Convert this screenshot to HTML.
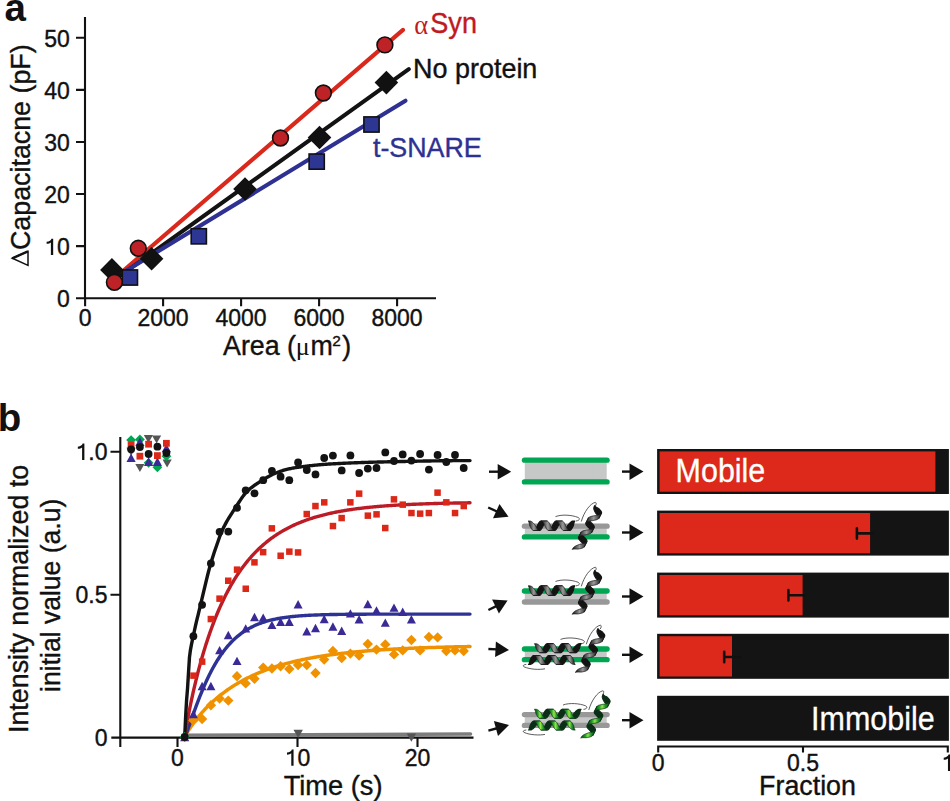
<!DOCTYPE html>
<html><head><meta charset="utf-8"><style>
html,body{margin:0;padding:0;background:#fff;overflow:hidden;}
svg{display:block;font-family:"Liberation Sans", sans-serif;}
</style></head><body>
<svg width="950" height="801" viewBox="0 0 950 801">
<defs><linearGradient id="gg" x1="0" y1="0" x2="1" y2="0"><stop offset="0" stop-color="#151515"/><stop offset="0.25" stop-color="#555"/><stop offset="0.5" stop-color="#9a9a9a"/><stop offset="0.75" stop-color="#555"/><stop offset="1" stop-color="#151515"/></linearGradient><linearGradient id="ggv" x1="0" y1="0" x2="0" y2="1"><stop offset="0" stop-color="#1a1a1a"/><stop offset="0.45" stop-color="#a0a0a0"/><stop offset="0.6" stop-color="#8a8a8a"/><stop offset="1" stop-color="#1a1a1a"/></linearGradient><linearGradient id="gn" x1="0" y1="0" x2="1" y2="0"><stop offset="0" stop-color="#0b3315"/><stop offset="0.3" stop-color="#1b9a2c"/><stop offset="0.5" stop-color="#96e544"/><stop offset="0.7" stop-color="#1b9a2c"/><stop offset="1" stop-color="#0b3315"/></linearGradient><linearGradient id="gnv" x1="0" y1="0" x2="0" y2="1"><stop offset="0" stop-color="#0c3a16"/><stop offset="0.45" stop-color="#7fe03a"/><stop offset="0.6" stop-color="#4cc02a"/><stop offset="1" stop-color="#0c3a16"/></linearGradient></defs>
<rect width="950" height="801" fill="#fff"/>
<text x="4.5" y="21.0" font-size="38.5" font-weight="bold" fill="#111">a</text>
<path d="M85.0 17 V298.2 M76.0 298.2 H436" stroke="#111" stroke-width="2.1" fill="none"/>
<path d="M76.0 246.1 H85.0 M76.0 194.0 H85.0 M76.0 142.0 H85.0 M76.0 89.9 H85.0 M76.0 37.8 H85.0 M85.1 298.2 V306.2 M163.1 298.2 V306.2 M241.1 298.2 V306.2 M319.1 298.2 V306.2 M397.1 298.2 V306.2 " stroke="#111" stroke-width="2.1" fill="none"/>
<text x="57.11" y="307.10" font-size="23" fill="#111" stroke="#111" stroke-width="0.38">0</text>
<path d="M53.18 255.02 L53.18 238.64 L51.45 238.64 C50.99 240.30 49.38 241.56 46.62 241.68 L46.62 243.87 C48.46 243.75 50.07 243.29 50.88 242.49 L50.88 255.02Z" fill="#111"/><text x="57.11" y="255.02" font-size="23" fill="#111" stroke="#111" stroke-width="0.38">0</text>
<text x="44.32" y="202.94" font-size="23" fill="#111" stroke="#111" stroke-width="0.38">20</text>
<text x="44.32" y="150.86" font-size="23" fill="#111" stroke="#111" stroke-width="0.38">30</text>
<text x="44.32" y="98.78" font-size="23" fill="#111" stroke="#111" stroke-width="0.38">40</text>
<text x="44.32" y="46.70" font-size="23" fill="#111" stroke="#111" stroke-width="0.38">50</text>
<text x="85.1" y="325.5" font-size="23" text-anchor="middle" fill="#111" stroke="#111" stroke-width="0.38">0</text>
<text x="163.1" y="325.5" font-size="23" text-anchor="middle" fill="#111" stroke="#111" stroke-width="0.38">2000</text>
<text x="241.1" y="325.5" font-size="23" text-anchor="middle" fill="#111" stroke="#111" stroke-width="0.38">4000</text>
<text x="319.1" y="325.5" font-size="23" text-anchor="middle" fill="#111" stroke="#111" stroke-width="0.38">6000</text>
<text x="397.1" y="325.5" font-size="23" text-anchor="middle" fill="#111" stroke="#111" stroke-width="0.38">8000</text>
<text transform="translate(223.00 355.30) scale(0.965 1)" font-size="27.8" fill="#111" stroke="#111" stroke-width="0.38">Area (</text>
<text transform="translate(295.80 355.30)" font-size="26" fill="#111" font-family="Liberation Serif">μ</text>
<text transform="translate(310.40 355.30) scale(0.965 1)" font-size="27.8" fill="#111" stroke="#111" stroke-width="0.38">m</text>
<text transform="translate(332.30 346.10)" font-size="15.4" fill="#111" stroke="#111" stroke-width="0.38">2</text>
<text transform="translate(351.30 355.30) scale(0.965 1)" font-size="27.8" text-anchor="end" fill="#111" stroke="#111" stroke-width="0.38">)</text>
<text transform="translate(30.00 250.00) rotate(-90) scale(0.965 1)" font-size="27.8" fill="#111" stroke="#111" stroke-width="0.38">Capacitacne (pF)</text>
<path d="M12.3 258.3 L28.0 251.3 L28.0 265.4 Z" fill="none" stroke="#111" stroke-width="1.5" stroke-linejoin="miter"/>
<path d="M12.3 258.3 L28.0 251.3" stroke="#111" stroke-width="2.4"/>
<line x1="114" y1="278.7" x2="403" y2="29.9" stroke="#da281c" stroke-width="4.1" stroke-linecap="round"/>
<line x1="112" y1="281.6" x2="408.8" y2="69.1" stroke="#131313" stroke-width="4.1" stroke-linecap="round"/>
<line x1="124" y1="272.1" x2="405.5" y2="100.7" stroke="#2e3192" stroke-width="4.1" stroke-linecap="round"/>
<rect x="122.3" y="269.9" width="15.2" height="15.2" fill="#2e3694" stroke="#111" stroke-width="1.6"/>
<rect x="191.2" y="228.7" width="15.2" height="15.2" fill="#2e3694" stroke="#111" stroke-width="1.6"/>
<rect x="309.1" y="154.0" width="15.2" height="15.2" fill="#2e3694" stroke="#111" stroke-width="1.6"/>
<rect x="363.9" y="116.9" width="15.2" height="15.2" fill="#2e3694" stroke="#111" stroke-width="1.6"/>
<path d="M100.1 269.9 L111.9 258.1 L123.7 269.9 L111.9 281.7Z" fill="#111"/>
<path d="M139.8 258.7 L151.6 246.9 L163.4 258.7 L151.6 270.5Z" fill="#111"/>
<path d="M233.2 189.0 L245.0 177.2 L256.8 189.0 L245.0 200.8Z" fill="#111"/>
<path d="M307.7 137.5 L319.5 125.7 L331.3 137.5 L319.5 149.3Z" fill="#111"/>
<path d="M374.6 82.6 L386.4 70.8 L398.2 82.6 L386.4 94.4Z" fill="#111"/>
<circle cx="114.4" cy="282.3" r="7.9" fill="#bd2226" stroke="#111" stroke-width="1.6"/>
<circle cx="138.3" cy="248.3" r="7.9" fill="#bd2226" stroke="#111" stroke-width="1.6"/>
<circle cx="280.5" cy="138" r="7.9" fill="#bd2226" stroke="#111" stroke-width="1.6"/>
<circle cx="323.4" cy="93" r="7.9" fill="#bd2226" stroke="#111" stroke-width="1.6"/>
<circle cx="384.9" cy="44.9" r="7.9" fill="#bd2226" stroke="#111" stroke-width="1.6"/>
<text transform="translate(414.30 33.80)" font-size="26.5" fill="#bf1a1f" font-family="Liberation Serif">α</text>
<text transform="translate(430.30 33.40) scale(0.94 1)" font-size="28.8" fill="#bf1a1f" stroke="#bf1a1f" stroke-width="0.38">Syn</text>
<text transform="translate(413.00 77.70) scale(0.97 1)" font-size="27.8" fill="#111" stroke="#111" stroke-width="0.38">No protein</text>
<text transform="translate(373.00 157.40) scale(0.965 1)" font-size="27.8" fill="#2e3192" stroke="#2e3192" stroke-width="0.38">t-SNARE</text>
<text x="-2.3" y="430.8" font-size="38.5" font-weight="bold" fill="#111">b</text>
<path d="M120.3 437 V747 M111.3 737.6 H473.5" stroke="#111" stroke-width="2.1" fill="none"/>
<path d="M110.5 594.7 H120.2 M110.5 451.7 H120.2 M177.5 737.6 V747 M297.5 737.6 V747 M417.5 737.6 V747 " stroke="#111" stroke-width="2.1" fill="none"/>
<text x="94.71" y="745.90" font-size="23" fill="#111" stroke="#111" stroke-width="0.38">0</text>
<text x="75.53" y="602.95" font-size="23" fill="#111" stroke="#111" stroke-width="0.38">0.5</text>
<path d="M84.39 460.00 L84.39 443.62 L82.66 443.62 C82.20 445.28 80.59 446.55 77.83 446.66 L77.83 448.85 C79.67 448.73 81.28 448.27 82.09 447.47 L82.09 460.00Z" fill="#111"/><text x="88.32" y="460.00" font-size="23" fill="#111" stroke="#111" stroke-width="0.38">.0</text>
<text x="171.11" y="765.80" font-size="23" fill="#111" stroke="#111" stroke-width="0.38">0</text>
<path d="M293.57 765.80 L293.57 749.42 L291.84 749.42 C291.38 751.08 289.77 752.34 287.01 752.46 L287.01 754.64 C288.85 754.53 290.46 754.07 291.27 753.26 L291.27 765.80Z" fill="#111"/><text x="297.50" y="765.80" font-size="23" fill="#111" stroke="#111" stroke-width="0.38">0</text>
<text x="404.71" y="765.80" font-size="23" fill="#111" stroke="#111" stroke-width="0.38">20</text>
<text transform="translate(333.10 795.20) scale(0.98 1)" font-size="27.8" text-anchor="middle" fill="#111" stroke="#111" stroke-width="0.38">Time (s)</text>
<text transform="translate(28.40 598.90) rotate(-90) scale(0.965 1)" font-size="27.8" text-anchor="middle" fill="#111" stroke="#111" stroke-width="0.38">Intensity normalized to</text>
<text transform="translate(60.20 595.30) rotate(-90) scale(0.955 1)" font-size="27.8" text-anchor="middle" fill="#111" stroke="#111" stroke-width="0.38">initial value (a.u)</text>
<line x1="185" y1="735.3" x2="470.5" y2="734.0" stroke="#7d7d7d" stroke-width="3.6" stroke-linecap="round"/>
<path d="M293.5 729.7 H302.9 L298.2 737.9Z" fill="#555"/>
<path d="M406.7 733.5 H416.1 L411.4 741.7Z" fill="#555"/>
<path d="M126.5 447.8 H135.7 L131.1 455.8Z" fill="#555"/>
<path d="M135.3 463.9 H144.5 L139.9 471.9Z" fill="#555"/>
<path d="M143.8 434.9 H153.0 L148.4 442.9Z" fill="#555"/>
<path d="M152.0 435.5 H161.2 L156.6 443.5Z" fill="#555"/>
<path d="M162.5 459.5 H171.7 L167.1 467.5Z" fill="#555"/>
<path d="M126.2 440.1 L131.1 435.2 L136.0 440.1 L131.1 445.0Z" fill="#00a651"/>
<path d="M135.0 439.5 L139.9 434.6 L144.8 439.5 L139.9 444.4Z" fill="#00a651"/>
<path d="M143.7 462.8 L148.6 457.9 L153.5 462.8 L148.6 467.7Z" fill="#00a651"/>
<path d="M152.5 467.3 L157.4 462.4 L162.3 467.3 L157.4 472.2Z" fill="#00a651"/>
<path d="M161.5 456.2 L166.4 451.3 L171.3 456.2 L166.4 461.1Z" fill="#00a651"/>
<path d="M126.5 462.1 H135.7 L131.1 453.5Z" fill="#3a2a96"/>
<path d="M135.3 446.0 H144.5 L139.9 437.4Z" fill="#3a2a96"/>
<path d="M144.0 465.9 H153.2 L148.6 457.3Z" fill="#3a2a96"/>
<path d="M152.8 465.9 H162.0 L157.4 457.3Z" fill="#3a2a96"/>
<path d="M161.8 452.3 H171.0 L166.4 443.7Z" fill="#3a2a96"/>
<rect x="127.7" y="441.8" width="6.8" height="6.8" fill="#dc2819"/>
<rect x="136.5" y="452.8" width="6.8" height="6.8" fill="#dc2819"/>
<rect x="145.2" y="440.8" width="6.8" height="6.8" fill="#dc2819"/>
<rect x="154.0" y="452.2" width="6.8" height="6.8" fill="#dc2819"/>
<rect x="163.0" y="439.9" width="6.8" height="6.8" fill="#dc2819"/>
<circle cx="131.1" cy="449.3" r="3.9" fill="#131313"/>
<circle cx="139.9" cy="447.1" r="3.9" fill="#131313"/>
<circle cx="148.6" cy="454.0" r="3.9" fill="#131313"/>
<circle cx="157.4" cy="446.7" r="3.9" fill="#131313"/>
<circle cx="166.4" cy="453.0" r="3.9" fill="#131313"/>
<path d="M184.70 737.00 L185.65 735.11 L186.61 733.43 L187.56 731.83 L188.52 730.31 L189.47 728.83 L190.43 727.40 L191.38 726.01 L192.33 724.65 L193.29 723.33 L194.24 722.05 L195.20 720.79 L196.15 719.56 L197.10 718.35 L198.06 717.18 L199.01 716.02 L199.97 714.89 L200.92 713.79 L201.88 712.70 L202.83 711.64 L203.78 710.59 L204.74 709.57 L205.69 708.57 L206.65 707.58 L207.60 706.61 L208.55 705.67 L209.51 704.73 L210.46 703.82 L211.42 702.92 L212.37 702.04 L213.33 701.17 L214.28 700.31 L215.23 699.48 L216.19 698.65 L217.14 697.84 L218.10 697.05 L219.05 696.27 L220.00 695.50 L220.96 694.74 L221.91 694.00 L222.87 693.27 L223.82 692.55 L224.78 691.85 L225.73 691.15 L226.68 690.47 L227.64 689.80 L228.59 689.13 L229.55 688.48 L230.50 687.84 L231.45 687.21 L232.41 686.60 L233.36 685.99 L234.32 685.39 L235.27 684.80 L236.23 684.22 L237.18 683.64 L238.13 683.08 L239.09 682.53 L240.04 681.98 L241.00 681.45 L241.95 680.92 L242.91 680.40 L243.86 679.89 L244.81 679.39 L245.77 678.89 L246.72 678.40 L247.68 677.92 L248.63 677.45 L249.58 676.98 L250.54 676.53 L251.49 676.07 L252.45 675.63 L253.40 675.19 L254.36 674.76 L255.31 674.34 L256.26 673.92 L257.22 673.51 L258.17 673.10 L259.13 672.70 L260.08 672.31 L261.03 671.92 L261.99 671.54 L262.94 671.17 L263.90 670.80 L264.85 670.43 L265.81 670.08 L266.76 669.72 L267.71 669.37 L268.67 669.03 L269.62 668.69 L270.58 668.36 L271.53 668.03 L272.48 667.71 L273.44 667.39 L274.39 667.08 L275.35 666.77 L276.30 666.47 L277.26 666.17 L278.21 665.87 L279.16 665.58 L280.12 665.29 L281.07 665.01 L282.03 664.73 L282.98 664.46 L283.93 664.19 L284.89 663.92 L285.84 663.66 L286.80 663.40 L287.75 663.15 L288.71 662.90 L289.66 662.65 L290.61 662.41 L291.57 662.17 L292.52 661.93 L293.48 661.70 L294.43 661.47 L295.38 661.24 L296.34 661.02 L297.29 660.80 L298.25 660.58 L299.20 660.37 L300.16 660.16 L301.11 659.95 L302.06 659.75 L303.02 659.54 L303.97 659.35 L304.93 659.15 L305.88 658.96 L306.84 658.77 L307.79 658.58 L308.74 658.39 L309.70 658.21 L310.65 658.03 L311.61 657.86 L312.56 657.68 L313.51 657.51 L314.47 657.34 L315.42 657.17 L316.38 657.01 L317.33 656.85 L318.29 656.69 L319.24 656.53 L320.19 656.37 L321.15 656.22 L322.10 656.07 L323.06 655.92 L324.01 655.77 L324.96 655.63 L325.92 655.48 L326.87 655.34 L327.83 655.21 L328.78 655.07 L329.74 654.93 L330.69 654.80 L331.64 654.67 L332.60 654.54 L333.55 654.41 L334.51 654.29 L335.46 654.16 L336.41 654.04 L337.37 653.92 L338.32 653.80 L339.28 653.69 L340.23 653.57 L341.19 653.46 L342.14 653.34 L343.09 653.23 L344.05 653.12 L345.00 653.02 L345.96 652.91 L346.91 652.81 L347.86 652.70 L348.82 652.60 L349.77 652.50 L350.73 652.40 L351.68 652.31 L352.64 652.21 L353.59 652.11 L354.54 652.02 L355.50 651.93 L356.45 651.84 L357.41 651.75 L358.36 651.66 L359.32 651.57 L360.27 651.49 L361.22 651.40 L362.18 651.32 L363.13 651.24 L364.09 651.15 L365.04 651.07 L365.99 651.00 L366.95 650.92 L367.90 650.84 L368.86 650.76 L369.81 650.69 L370.77 650.62 L371.72 650.54 L372.67 650.47 L373.63 650.40 L374.58 650.33 L375.54 650.26 L376.49 650.19 L377.44 650.13 L378.40 650.06 L379.35 650.00 L380.31 649.93 L381.26 649.87 L382.22 649.81 L383.17 649.74 L384.12 649.68 L385.08 649.62 L386.03 649.57 L386.99 649.51 L387.94 649.45 L388.89 649.39 L389.85 649.34 L390.80 649.28 L391.76 649.23 L392.71 649.17 L393.67 649.12 L394.62 649.07 L395.57 649.02 L396.53 648.97 L397.48 648.92 L398.44 648.87 L399.39 648.82 L400.34 648.77 L401.30 648.72 L402.25 648.68 L403.21 648.63 L404.16 648.58 L405.12 648.54 L406.07 648.49 L407.02 648.45 L407.98 648.41 L408.93 648.36 L409.89 648.32 L410.84 648.28 L411.79 648.24 L412.75 648.20 L413.70 648.16 L414.66 648.12 L415.61 648.08 L416.57 648.04 L417.52 648.01 L418.47 647.97 L419.43 647.93 L420.38 647.90 L421.34 647.86 L422.29 647.83 L423.25 647.79 L424.20 647.76 L425.15 647.72 L426.11 647.69 L427.06 647.66 L428.02 647.62 L428.97 647.59 L429.92 647.56 L430.88 647.53 L431.83 647.50 L432.79 647.47 L433.74 647.44 L434.70 647.41 L435.65 647.38 L436.60 647.35 L437.56 647.32 L438.51 647.30 L439.47 647.27 L440.42 647.24 L441.37 647.21 L442.33 647.19 L443.28 647.16 L444.24 647.14 L445.19 647.11 L446.15 647.09 L447.10 647.06 L448.05 647.04 L449.01 647.01 L449.96 646.99 L450.92 646.97 L451.87 646.94 L452.82 646.92 L453.78 646.90 L454.73 646.87 L455.69 646.85 L456.64 646.83 L457.60 646.81 L458.55 646.79 L459.50 646.77 L460.46 646.75 L461.41 646.73 L462.37 646.71 L463.32 646.69 L464.27 646.67 L465.23 646.65 L466.18 646.63 L467.14 646.61 L468.09 646.59 L469.05 646.57 L470.00 646.56" stroke="#f09200" stroke-width="3.5" fill="none" stroke-linecap="round"/>
<path d="M184.70 737.00 L185.65 735.04 L186.61 732.66 L187.56 730.12 L188.52 727.50 L189.47 724.82 L190.43 722.13 L191.38 719.43 L192.33 716.74 L193.29 714.06 L194.24 711.40 L195.20 708.78 L196.15 706.18 L197.10 703.63 L198.06 701.11 L199.01 698.64 L199.97 696.21 L200.92 693.83 L201.88 691.49 L202.83 689.20 L203.78 686.96 L204.74 684.77 L205.69 682.63 L206.65 680.54 L207.60 678.50 L208.55 676.51 L209.51 674.57 L210.46 672.67 L211.42 670.83 L212.37 669.03 L213.33 667.28 L214.28 665.58 L215.23 663.92 L216.19 662.31 L217.14 660.74 L218.10 659.22 L219.05 657.74 L220.00 656.30 L220.96 654.90 L221.91 653.55 L222.87 652.23 L223.82 650.95 L224.78 649.71 L225.73 648.51 L226.68 647.34 L227.64 646.21 L228.59 645.11 L229.55 644.05 L230.50 643.02 L231.45 642.02 L232.41 641.06 L233.36 640.12 L234.32 639.21 L235.27 638.34 L236.23 637.49 L237.18 636.66 L238.13 635.87 L239.09 635.10 L240.04 634.35 L241.00 633.63 L241.95 632.94 L242.91 632.26 L243.86 631.61 L244.81 630.98 L245.77 630.38 L246.72 629.79 L247.68 629.22 L248.63 628.67 L249.58 628.14 L250.54 627.63 L251.49 627.13 L252.45 626.66 L253.40 626.19 L254.36 625.75 L255.31 625.32 L256.26 624.90 L257.22 624.50 L258.17 624.12 L259.13 623.74 L260.08 623.38 L261.03 623.04 L261.99 622.70 L262.94 622.38 L263.90 622.07 L264.85 621.77 L265.81 621.48 L266.76 621.20 L267.71 620.93 L268.67 620.67 L269.62 620.42 L270.58 620.18 L271.53 619.95 L272.48 619.72 L273.44 619.51 L274.39 619.30 L275.35 619.10 L276.30 618.91 L277.26 618.72 L278.21 618.54 L279.16 618.37 L280.12 618.20 L281.07 618.04 L282.03 617.89 L282.98 617.74 L283.93 617.60 L284.89 617.46 L285.84 617.33 L286.80 617.20 L287.75 617.08 L288.71 616.96 L289.66 616.85 L290.61 616.74 L291.57 616.64 L292.52 616.54 L293.48 616.44 L294.43 616.35 L295.38 616.26 L296.34 616.17 L297.29 616.09 L298.25 616.01 L299.20 615.93 L300.16 615.86 L301.11 615.79 L302.06 615.72 L303.02 615.65 L303.97 615.59 L304.93 615.53 L305.88 615.47 L306.84 615.41 L307.79 615.36 L308.74 615.31 L309.70 615.26 L310.65 615.21 L311.61 615.17 L312.56 615.12 L313.51 615.08 L314.47 615.04 L315.42 615.00 L316.38 614.96 L317.33 614.93 L318.29 614.89 L319.24 614.86 L320.19 614.83 L321.15 614.80 L322.10 614.77 L323.06 614.74 L324.01 614.71 L324.96 614.69 L325.92 614.66 L326.87 614.64 L327.83 614.61 L328.78 614.59 L329.74 614.57 L330.69 614.55 L331.64 614.53 L332.60 614.51 L333.55 614.50 L334.51 614.48 L335.46 614.46 L336.41 614.45 L337.37 614.43 L338.32 614.42 L339.28 614.40 L340.23 614.39 L341.19 614.38 L342.14 614.36 L343.09 614.35 L344.05 614.34 L345.00 614.33 L345.96 614.32 L346.91 614.31 L347.86 614.30 L348.82 614.29 L349.77 614.28 L350.73 614.27 L351.68 614.26 L352.64 614.26 L353.59 614.25 L354.54 614.24 L355.50 614.24 L356.45 614.23 L357.41 614.22 L358.36 614.22 L359.32 614.21 L360.27 614.21 L361.22 614.20 L362.18 614.19 L363.13 614.19 L364.09 614.19 L365.04 614.18 L365.99 614.18 L366.95 614.17 L367.90 614.17 L368.86 614.16 L369.81 614.16 L370.77 614.16 L371.72 614.15 L372.67 614.15 L373.63 614.15 L374.58 614.15 L375.54 614.14 L376.49 614.14 L377.44 614.14 L378.40 614.13 L379.35 614.13 L380.31 614.13 L381.26 614.13 L382.22 614.13 L383.17 614.12 L384.12 614.12 L385.08 614.12 L386.03 614.12 L386.99 614.12 L387.94 614.12 L388.89 614.11 L389.85 614.11 L390.80 614.11 L391.76 614.11 L392.71 614.11 L393.67 614.11 L394.62 614.11 L395.57 614.11 L396.53 614.10 L397.48 614.10 L398.44 614.10 L399.39 614.10 L400.34 614.10 L401.30 614.10 L402.25 614.10 L403.21 614.10 L404.16 614.10 L405.12 614.10 L406.07 614.10 L407.02 614.10 L407.98 614.09 L408.93 614.09 L409.89 614.09 L410.84 614.09 L411.79 614.09 L412.75 614.09 L413.70 614.09 L414.66 614.09 L415.61 614.09 L416.57 614.09 L417.52 614.09 L418.47 614.09 L419.43 614.09 L420.38 614.09 L421.34 614.09 L422.29 614.09 L423.25 614.09 L424.20 614.09 L425.15 614.09 L426.11 614.09 L427.06 614.09 L428.02 614.09 L428.97 614.09 L429.92 614.09 L430.88 614.09 L431.83 614.09 L432.79 614.09 L433.74 614.08 L434.70 614.08 L435.65 614.08 L436.60 614.08 L437.56 614.08 L438.51 614.08 L439.47 614.08 L440.42 614.08 L441.37 614.08 L442.33 614.08 L443.28 614.08 L444.24 614.08 L445.19 614.08 L446.15 614.08 L447.10 614.08 L448.05 614.08 L449.01 614.08 L449.96 614.08 L450.92 614.08 L451.87 614.08 L452.82 614.08 L453.78 614.08 L454.73 614.08 L455.69 614.08 L456.64 614.08 L457.60 614.08 L458.55 614.08 L459.50 614.08 L460.46 614.08 L461.41 614.08 L462.37 614.08 L463.32 614.08 L464.27 614.08 L465.23 614.08 L466.18 614.08 L467.14 614.08 L468.09 614.08 L469.05 614.08 L470.00 614.08" stroke="#2c3394" stroke-width="3.4" fill="none" stroke-linecap="round"/>
<path d="M184.70 737.00 L185.65 730.67 L186.61 725.03 L187.56 719.70 L188.52 714.62 L189.47 709.73 L190.43 705.01 L191.38 700.44 L192.33 696.02 L193.29 691.73 L194.24 687.57 L195.20 683.52 L196.15 679.58 L197.10 675.75 L198.06 672.02 L199.01 668.38 L199.97 664.84 L200.92 661.39 L201.88 658.02 L202.83 654.73 L203.78 651.53 L204.74 648.40 L205.69 645.34 L206.65 642.36 L207.60 639.45 L208.55 636.61 L209.51 633.83 L210.46 631.11 L211.42 628.46 L212.37 625.87 L213.33 623.34 L214.28 620.86 L215.23 618.44 L216.19 616.07 L217.14 613.76 L218.10 611.49 L219.05 609.28 L220.00 607.11 L220.96 605.00 L221.91 602.92 L222.87 600.90 L223.82 598.91 L224.78 596.97 L225.73 595.08 L226.68 593.22 L227.64 591.40 L228.59 589.62 L229.55 587.88 L230.50 586.17 L231.45 584.50 L232.41 582.87 L233.36 581.27 L234.32 579.70 L235.27 578.17 L236.23 576.67 L237.18 575.20 L238.13 573.76 L239.09 572.35 L240.04 570.97 L241.00 569.62 L241.95 568.30 L242.91 567.00 L243.86 565.73 L244.81 564.49 L245.77 563.27 L246.72 562.08 L247.68 560.91 L248.63 559.76 L249.58 558.64 L250.54 557.54 L251.49 556.46 L252.45 555.41 L253.40 554.37 L254.36 553.36 L255.31 552.37 L256.26 551.40 L257.22 550.45 L258.17 549.51 L259.13 548.60 L260.08 547.70 L261.03 546.82 L261.99 545.96 L262.94 545.12 L263.90 544.29 L264.85 543.48 L265.81 542.69 L266.76 541.91 L267.71 541.14 L268.67 540.40 L269.62 539.66 L270.58 538.94 L271.53 538.24 L272.48 537.55 L273.44 536.87 L274.39 536.21 L275.35 535.56 L276.30 534.92 L277.26 534.29 L278.21 533.68 L279.16 533.08 L280.12 532.49 L281.07 531.91 L282.03 531.35 L282.98 530.79 L283.93 530.25 L284.89 529.71 L285.84 529.19 L286.80 528.68 L287.75 528.17 L288.71 527.68 L289.66 527.20 L290.61 526.72 L291.57 526.26 L292.52 525.80 L293.48 525.35 L294.43 524.91 L295.38 524.48 L296.34 524.06 L297.29 523.65 L298.25 523.24 L299.20 522.84 L300.16 522.45 L301.11 522.07 L302.06 521.69 L303.02 521.33 L303.97 520.97 L304.93 520.61 L305.88 520.26 L306.84 519.92 L307.79 519.59 L308.74 519.26 L309.70 518.94 L310.65 518.62 L311.61 518.31 L312.56 518.01 L313.51 517.71 L314.47 517.42 L315.42 517.13 L316.38 516.85 L317.33 516.58 L318.29 516.31 L319.24 516.04 L320.19 515.78 L321.15 515.52 L322.10 515.27 L323.06 515.03 L324.01 514.79 L324.96 514.55 L325.92 514.32 L326.87 514.09 L327.83 513.87 L328.78 513.65 L329.74 513.43 L330.69 513.22 L331.64 513.01 L332.60 512.81 L333.55 512.61 L334.51 512.42 L335.46 512.23 L336.41 512.04 L337.37 511.85 L338.32 511.67 L339.28 511.49 L340.23 511.32 L341.19 511.15 L342.14 510.98 L343.09 510.81 L344.05 510.65 L345.00 510.49 L345.96 510.34 L346.91 510.19 L347.86 510.04 L348.82 509.89 L349.77 509.74 L350.73 509.60 L351.68 509.46 L352.64 509.33 L353.59 509.19 L354.54 509.06 L355.50 508.93 L356.45 508.80 L357.41 508.68 L358.36 508.56 L359.32 508.44 L360.27 508.32 L361.22 508.21 L362.18 508.09 L363.13 507.98 L364.09 507.87 L365.04 507.77 L365.99 507.66 L366.95 507.56 L367.90 507.46 L368.86 507.36 L369.81 507.26 L370.77 507.16 L371.72 507.07 L372.67 506.98 L373.63 506.89 L374.58 506.80 L375.54 506.71 L376.49 506.63 L377.44 506.54 L378.40 506.46 L379.35 506.38 L380.31 506.30 L381.26 506.22 L382.22 506.15 L383.17 506.07 L384.12 506.00 L385.08 505.92 L386.03 505.85 L386.99 505.78 L387.94 505.72 L388.89 505.65 L389.85 505.58 L390.80 505.52 L391.76 505.45 L392.71 505.39 L393.67 505.33 L394.62 505.27 L395.57 505.21 L396.53 505.15 L397.48 505.10 L398.44 505.04 L399.39 504.99 L400.34 504.93 L401.30 504.88 L402.25 504.83 L403.21 504.78 L404.16 504.73 L405.12 504.68 L406.07 504.63 L407.02 504.58 L407.98 504.54 L408.93 504.49 L409.89 504.45 L410.84 504.40 L411.79 504.36 L412.75 504.32 L413.70 504.27 L414.66 504.23 L415.61 504.19 L416.57 504.15 L417.52 504.12 L418.47 504.08 L419.43 504.04 L420.38 504.00 L421.34 503.97 L422.29 503.93 L423.25 503.90 L424.20 503.86 L425.15 503.83 L426.11 503.80 L427.06 503.77 L428.02 503.73 L428.97 503.70 L429.92 503.67 L430.88 503.64 L431.83 503.61 L432.79 503.59 L433.74 503.56 L434.70 503.53 L435.65 503.50 L436.60 503.48 L437.56 503.45 L438.51 503.42 L439.47 503.40 L440.42 503.37 L441.37 503.35 L442.33 503.32 L443.28 503.30 L444.24 503.28 L445.19 503.25 L446.15 503.23 L447.10 503.21 L448.05 503.19 L449.01 503.17 L449.96 503.15 L450.92 503.13 L451.87 503.11 L452.82 503.09 L453.78 503.07 L454.73 503.05 L455.69 503.03 L456.64 503.01 L457.60 502.99 L458.55 502.98 L459.50 502.96 L460.46 502.94 L461.41 502.93 L462.37 502.91 L463.32 502.89 L464.27 502.88 L465.23 502.86 L466.18 502.85 L467.14 502.83 L468.09 502.82 L469.05 502.80 L470.00 502.79" stroke="#bb1c25" stroke-width="3.4" fill="none" stroke-linecap="round"/>
<path d="M184.70 737.00 L185.65 716.41 L186.61 699.87 L187.56 688.04 L188.52 672.45 L189.47 657.36 L190.43 650.13 L191.38 644.83 L192.33 640.48 L193.29 636.06 L194.24 631.48 L195.20 627.14 L196.15 622.98 L197.10 618.97 L198.06 615.03 L199.01 611.13 L199.97 607.22 L200.92 603.23 L201.88 599.20 L202.83 595.13 L203.78 591.07 L204.74 587.02 L205.69 583.02 L206.65 579.09 L207.60 575.25 L208.55 571.52 L209.51 567.93 L210.46 564.50 L211.42 561.24 L212.37 558.15 L213.33 555.18 L214.28 552.31 L215.23 549.52 L216.19 546.76 L217.14 544.01 L218.10 541.23 L219.05 538.47 L220.00 535.80 L220.96 533.29 L221.91 531.01 L222.87 528.96 L223.82 527.02 L224.78 525.16 L225.73 523.37 L226.68 521.66 L227.64 520.01 L228.59 518.41 L229.55 516.86 L230.50 515.34 L231.45 513.85 L232.41 512.38 L233.36 510.92 L234.32 509.46 L235.27 507.99 L236.23 506.50 L237.18 505.01 L238.13 503.51 L239.09 502.02 L240.04 500.55 L241.00 499.12 L241.95 497.72 L242.91 496.38 L243.86 495.11 L244.81 493.91 L245.77 492.79 L246.72 491.78 L247.68 490.85 L248.63 489.97 L249.58 489.13 L250.54 488.32 L251.49 487.55 L252.45 486.81 L253.40 486.10 L254.36 485.41 L255.31 484.74 L256.26 484.10 L257.22 483.47 L258.17 482.85 L259.13 482.24 L260.08 481.64 L261.03 481.05 L261.99 480.46 L262.94 479.86 L263.90 479.27 L264.85 478.69 L265.81 478.12 L266.76 477.55 L267.71 477.00 L268.67 476.46 L269.62 475.94 L270.58 475.44 L271.53 474.96 L272.48 474.50 L273.44 474.07 L274.39 473.66 L275.35 473.27 L276.30 472.89 L277.26 472.51 L278.21 472.15 L279.16 471.79 L280.12 471.45 L281.07 471.12 L282.03 470.80 L282.98 470.49 L283.93 470.20 L284.89 469.92 L285.84 469.66 L286.80 469.41 L287.75 469.17 L288.71 468.95 L289.66 468.75 L290.61 468.55 L291.57 468.36 L292.52 468.18 L293.48 468.00 L294.43 467.83 L295.38 467.67 L296.34 467.51 L297.29 467.36 L298.25 467.22 L299.20 467.08 L300.16 466.95 L301.11 466.82 L302.06 466.69 L303.02 466.57 L303.97 466.45 L304.93 466.34 L305.88 466.22 L306.84 466.11 L307.79 466.00 L308.74 465.89 L309.70 465.78 L310.65 465.67 L311.61 465.57 L312.56 465.46 L313.51 465.36 L314.47 465.27 L315.42 465.17 L316.38 465.08 L317.33 464.98 L318.29 464.89 L319.24 464.81 L320.19 464.72 L321.15 464.64 L322.10 464.56 L323.06 464.48 L324.01 464.41 L324.96 464.34 L325.92 464.27 L326.87 464.20 L327.83 464.14 L328.78 464.07 L329.74 464.02 L330.69 463.96 L331.64 463.90 L332.60 463.85 L333.55 463.80 L334.51 463.74 L335.46 463.69 L336.41 463.64 L337.37 463.59 L338.32 463.54 L339.28 463.49 L340.23 463.44 L341.19 463.39 L342.14 463.35 L343.09 463.30 L344.05 463.25 L345.00 463.21 L345.96 463.17 L346.91 463.12 L347.86 463.08 L348.82 463.04 L349.77 462.99 L350.73 462.95 L351.68 462.91 L352.64 462.87 L353.59 462.84 L354.54 462.80 L355.50 462.76 L356.45 462.72 L357.41 462.69 L358.36 462.65 L359.32 462.62 L360.27 462.58 L361.22 462.55 L362.18 462.51 L363.13 462.48 L364.09 462.45 L365.04 462.42 L365.99 462.39 L366.95 462.36 L367.90 462.33 L368.86 462.30 L369.81 462.27 L370.77 462.24 L371.72 462.21 L372.67 462.19 L373.63 462.16 L374.58 462.14 L375.54 462.11 L376.49 462.09 L377.44 462.06 L378.40 462.04 L379.35 462.02 L380.31 461.99 L381.26 461.97 L382.22 461.95 L383.17 461.93 L384.12 461.90 L385.08 461.88 L386.03 461.86 L386.99 461.84 L387.94 461.81 L388.89 461.79 L389.85 461.77 L390.80 461.75 L391.76 461.73 L392.71 461.70 L393.67 461.68 L394.62 461.66 L395.57 461.64 L396.53 461.62 L397.48 461.60 L398.44 461.58 L399.39 461.55 L400.34 461.53 L401.30 461.51 L402.25 461.49 L403.21 461.47 L404.16 461.45 L405.12 461.43 L406.07 461.41 L407.02 461.39 L407.98 461.37 L408.93 461.35 L409.89 461.33 L410.84 461.31 L411.79 461.29 L412.75 461.27 L413.70 461.25 L414.66 461.23 L415.61 461.21 L416.57 461.19 L417.52 461.17 L418.47 461.16 L419.43 461.14 L420.38 461.12 L421.34 461.10 L422.29 461.09 L423.25 461.07 L424.20 461.05 L425.15 461.03 L426.11 461.02 L427.06 461.00 L428.02 460.99 L428.97 460.97 L429.92 460.95 L430.88 460.94 L431.83 460.92 L432.79 460.91 L433.74 460.89 L434.70 460.88 L435.65 460.87 L436.60 460.85 L437.56 460.84 L438.51 460.83 L439.47 460.81 L440.42 460.80 L441.37 460.79 L442.33 460.78 L443.28 460.77 L444.24 460.76 L445.19 460.74 L446.15 460.73 L447.10 460.72 L448.05 460.71 L449.01 460.71 L449.96 460.70 L450.92 460.69 L451.87 460.68 L452.82 460.67 L453.78 460.66 L454.73 460.66 L455.69 460.65 L456.64 460.64 L457.60 460.64 L458.55 460.63 L459.50 460.63 L460.46 460.62 L461.41 460.62 L462.37 460.61 L463.32 460.61 L464.27 460.61 L465.23 460.61 L466.18 460.60 L467.14 460.60 L468.09 460.60 L469.05 460.60 L470.00 460.60" stroke="#131313" stroke-width="3.4" fill="none" stroke-linecap="round"/>
<path d="M179.8 737.0 L184.7 732.1 L189.6 737.0 L184.7 741.9Z" fill="#00a651"/>
<path d="M188.2 720.4 L193.4 715.2 L198.6 720.4 L193.4 725.6Z" fill="#f09200"/>
<path d="M196.9 719.0 L202.1 713.8 L207.3 719.0 L202.1 724.2Z" fill="#f09200"/>
<path d="M205.7 705.3 L210.9 700.1 L216.1 705.3 L210.9 710.5Z" fill="#f09200"/>
<path d="M214.4 698.6 L219.6 693.4 L224.8 698.6 L219.6 703.8Z" fill="#f09200"/>
<path d="M223.1 700.6 L228.3 695.4 L233.5 700.6 L228.3 705.8Z" fill="#f09200"/>
<path d="M231.8 676.2 L237.0 671.0 L242.2 676.2 L237.0 681.4Z" fill="#f09200"/>
<path d="M240.5 683.4 L245.7 678.2 L250.9 683.4 L245.7 688.6Z" fill="#f09200"/>
<path d="M249.3 678.8 L254.5 673.6 L259.7 678.8 L254.5 684.0Z" fill="#f09200"/>
<path d="M258.0 667.6 L263.2 662.4 L268.4 667.6 L263.2 672.8Z" fill="#f09200"/>
<path d="M266.7 668.5 L271.9 663.3 L277.1 668.5 L271.9 673.7Z" fill="#f09200"/>
<path d="M275.4 666.2 L280.6 661.0 L285.8 666.2 L280.6 671.4Z" fill="#f09200"/>
<path d="M284.1 669.0 L289.3 663.8 L294.5 669.0 L289.3 674.2Z" fill="#f09200"/>
<path d="M292.9 665.0 L298.1 659.8 L303.3 665.0 L298.1 670.2Z" fill="#f09200"/>
<path d="M301.6 665.0 L306.8 659.8 L312.0 665.0 L306.8 670.2Z" fill="#f09200"/>
<path d="M310.3 673.0 L315.5 667.8 L320.7 673.0 L315.5 678.2Z" fill="#f09200"/>
<path d="M319.0 659.6 L324.2 654.4 L329.4 659.6 L324.2 664.8Z" fill="#f09200"/>
<path d="M327.7 651.0 L332.9 645.8 L338.1 651.0 L332.9 656.2Z" fill="#f09200"/>
<path d="M336.5 658.0 L341.7 652.8 L346.9 658.0 L341.7 663.2Z" fill="#f09200"/>
<path d="M345.2 653.6 L350.4 648.4 L355.6 653.6 L350.4 658.8Z" fill="#f09200"/>
<path d="M353.9 655.6 L359.1 650.4 L364.3 655.6 L359.1 660.8Z" fill="#f09200"/>
<path d="M362.6 644.0 L367.8 638.8 L373.0 644.0 L367.8 649.2Z" fill="#f09200"/>
<path d="M371.3 649.6 L376.5 644.4 L381.7 649.6 L376.5 654.8Z" fill="#f09200"/>
<path d="M380.1 644.4 L385.3 639.2 L390.5 644.4 L385.3 649.6Z" fill="#f09200"/>
<path d="M388.8 654.4 L394.0 649.2 L399.2 654.4 L394.0 659.6Z" fill="#f09200"/>
<path d="M397.5 650.4 L402.7 645.2 L407.9 650.4 L402.7 655.6Z" fill="#f09200"/>
<path d="M406.2 640.0 L411.4 634.8 L416.6 640.0 L411.4 645.2Z" fill="#f09200"/>
<path d="M414.9 650.4 L420.1 645.2 L425.3 650.4 L420.1 655.6Z" fill="#f09200"/>
<path d="M423.7 637.0 L428.9 631.8 L434.1 637.0 L428.9 642.2Z" fill="#f09200"/>
<path d="M432.4 637.4 L437.6 632.2 L442.8 637.4 L437.6 642.6Z" fill="#f09200"/>
<path d="M441.1 651.0 L446.3 645.8 L451.5 651.0 L446.3 656.2Z" fill="#f09200"/>
<path d="M449.8 650.4 L455.0 645.2 L460.2 650.4 L455.0 655.6Z" fill="#f09200"/>
<path d="M458.5 651.0 L463.7 645.8 L468.9 651.0 L463.7 656.2Z" fill="#f09200"/>
<path d="M180.2 741.2 H189.2 L184.7 732.8Z" fill="#3a2a96"/>
<path d="M188.9 718.2 H197.9 L193.4 709.8Z" fill="#3a2a96"/>
<path d="M197.6 690.2 H206.6 L202.1 681.8Z" fill="#3a2a96"/>
<path d="M206.4 690.2 H215.4 L210.9 681.8Z" fill="#3a2a96"/>
<path d="M215.1 654.3 H224.1 L219.6 645.9Z" fill="#3a2a96"/>
<path d="M223.8 639.2 H232.8 L228.3 630.8Z" fill="#3a2a96"/>
<path d="M232.5 665.1 H241.5 L237.0 656.7Z" fill="#3a2a96"/>
<path d="M241.2 632.6 H250.2 L245.7 624.2Z" fill="#3a2a96"/>
<path d="M250.0 621.2 H259.0 L254.5 612.8Z" fill="#3a2a96"/>
<path d="M258.7 621.8 H267.7 L263.2 613.4Z" fill="#3a2a96"/>
<path d="M267.4 629.1 H276.4 L271.9 620.7Z" fill="#3a2a96"/>
<path d="M276.1 626.0 H285.1 L280.6 617.6Z" fill="#3a2a96"/>
<path d="M284.8 626.0 H293.8 L289.3 617.6Z" fill="#3a2a96"/>
<path d="M293.6 608.4 H302.6 L298.1 600.0Z" fill="#3a2a96"/>
<path d="M302.3 635.5 H311.3 L306.8 627.1Z" fill="#3a2a96"/>
<path d="M311.0 632.2 H320.0 L315.5 623.8Z" fill="#3a2a96"/>
<path d="M319.7 623.2 H328.7 L324.2 614.8Z" fill="#3a2a96"/>
<path d="M328.4 630.7 H337.4 L332.9 622.3Z" fill="#3a2a96"/>
<path d="M337.2 635.0 H346.2 L341.7 626.6Z" fill="#3a2a96"/>
<path d="M345.9 617.6 H354.9 L350.4 609.2Z" fill="#3a2a96"/>
<path d="M354.6 623.5 H363.6 L359.1 615.1Z" fill="#3a2a96"/>
<path d="M363.3 608.2 H372.3 L367.8 599.8Z" fill="#3a2a96"/>
<path d="M372.0 614.6 H381.0 L376.5 606.2Z" fill="#3a2a96"/>
<path d="M380.8 626.8 H389.8 L385.3 618.4Z" fill="#3a2a96"/>
<path d="M389.5 611.8 H398.5 L394.0 603.4Z" fill="#3a2a96"/>
<path d="M398.2 615.9 H407.2 L402.7 607.5Z" fill="#3a2a96"/>
<path d="M406.9 623.5 H415.9 L411.4 615.1Z" fill="#3a2a96"/>
<rect x="181.4" y="733.8" width="6.5" height="6.5" fill="#dc2819"/>
<rect x="190.2" y="672.4" width="6.5" height="6.5" fill="#dc2819"/>
<rect x="198.9" y="658.4" width="6.5" height="6.5" fill="#dc2819"/>
<rect x="207.6" y="615.8" width="6.5" height="6.5" fill="#dc2819"/>
<rect x="216.3" y="595.4" width="6.5" height="6.5" fill="#dc2819"/>
<rect x="225.0" y="577.5" width="6.5" height="6.5" fill="#dc2819"/>
<rect x="233.8" y="566.4" width="6.5" height="6.5" fill="#dc2819"/>
<rect x="242.5" y="585.5" width="6.5" height="6.5" fill="#dc2819"/>
<rect x="251.2" y="559.1" width="6.5" height="6.5" fill="#dc2819"/>
<rect x="259.9" y="548.9" width="6.5" height="6.5" fill="#dc2819"/>
<rect x="268.6" y="525.1" width="6.5" height="6.5" fill="#dc2819"/>
<rect x="277.4" y="552.5" width="6.5" height="6.5" fill="#dc2819"/>
<rect x="286.1" y="548.4" width="6.5" height="6.5" fill="#dc2819"/>
<rect x="294.8" y="549.2" width="6.5" height="6.5" fill="#dc2819"/>
<rect x="303.5" y="510.8" width="6.5" height="6.5" fill="#dc2819"/>
<rect x="312.2" y="502.8" width="6.5" height="6.5" fill="#dc2819"/>
<rect x="321.0" y="499.1" width="6.5" height="6.5" fill="#dc2819"/>
<rect x="329.7" y="522.8" width="6.5" height="6.5" fill="#dc2819"/>
<rect x="338.4" y="514.8" width="6.5" height="6.5" fill="#dc2819"/>
<rect x="347.1" y="499.1" width="6.5" height="6.5" fill="#dc2819"/>
<rect x="355.9" y="490.4" width="6.5" height="6.5" fill="#dc2819"/>
<rect x="364.6" y="512.4" width="6.5" height="6.5" fill="#dc2819"/>
<rect x="373.3" y="511.1" width="6.5" height="6.5" fill="#dc2819"/>
<rect x="382.0" y="524.8" width="6.5" height="6.5" fill="#dc2819"/>
<rect x="390.7" y="496.1" width="6.5" height="6.5" fill="#dc2819"/>
<rect x="399.5" y="501.4" width="6.5" height="6.5" fill="#dc2819"/>
<rect x="408.2" y="509.8" width="6.5" height="6.5" fill="#dc2819"/>
<rect x="416.9" y="510.4" width="6.5" height="6.5" fill="#dc2819"/>
<rect x="425.6" y="509.8" width="6.5" height="6.5" fill="#dc2819"/>
<rect x="434.3" y="489.4" width="6.5" height="6.5" fill="#dc2819"/>
<rect x="443.1" y="499.1" width="6.5" height="6.5" fill="#dc2819"/>
<rect x="451.8" y="509.8" width="6.5" height="6.5" fill="#dc2819"/>
<rect x="460.5" y="502.8" width="6.5" height="6.5" fill="#dc2819"/>
<circle cx="184.7" cy="737.0" r="3.9" fill="#131313"/>
<circle cx="193.4" cy="636.2" r="3.9" fill="#131313"/>
<circle cx="202.1" cy="604.8" r="3.9" fill="#131313"/>
<circle cx="210.9" cy="563.5" r="3.9" fill="#131313"/>
<circle cx="219.6" cy="531.8" r="3.9" fill="#131313"/>
<circle cx="228.3" cy="531.6" r="3.9" fill="#131313"/>
<circle cx="237.0" cy="507.9" r="3.9" fill="#131313"/>
<circle cx="245.7" cy="490.3" r="3.9" fill="#131313"/>
<circle cx="254.5" cy="493.3" r="3.9" fill="#131313"/>
<circle cx="263.2" cy="480.2" r="3.9" fill="#131313"/>
<circle cx="271.9" cy="470.8" r="3.9" fill="#131313"/>
<circle cx="280.6" cy="476.7" r="3.9" fill="#131313"/>
<circle cx="289.3" cy="480.2" r="3.9" fill="#131313"/>
<circle cx="298.1" cy="462.5" r="3.9" fill="#131313"/>
<circle cx="306.8" cy="470.0" r="3.9" fill="#131313"/>
<circle cx="315.5" cy="474.4" r="3.9" fill="#131313"/>
<circle cx="324.2" cy="458.0" r="3.9" fill="#131313"/>
<circle cx="332.9" cy="455.6" r="3.9" fill="#131313"/>
<circle cx="341.7" cy="470.4" r="3.9" fill="#131313"/>
<circle cx="350.4" cy="455.4" r="3.9" fill="#131313"/>
<circle cx="359.1" cy="473.0" r="3.9" fill="#131313"/>
<circle cx="367.8" cy="468.6" r="3.9" fill="#131313"/>
<circle cx="376.5" cy="468.0" r="3.9" fill="#131313"/>
<circle cx="385.3" cy="452.4" r="3.9" fill="#131313"/>
<circle cx="394.0" cy="461.0" r="3.9" fill="#131313"/>
<circle cx="402.7" cy="454.4" r="3.9" fill="#131313"/>
<circle cx="411.4" cy="460.6" r="3.9" fill="#131313"/>
<circle cx="420.1" cy="454.0" r="3.9" fill="#131313"/>
<circle cx="428.9" cy="469.6" r="3.9" fill="#131313"/>
<circle cx="437.6" cy="455.0" r="3.9" fill="#131313"/>
<circle cx="446.3" cy="462.0" r="3.9" fill="#131313"/>
<circle cx="455.0" cy="455.0" r="3.9" fill="#131313"/>
<circle cx="463.7" cy="468.0" r="3.9" fill="#131313"/>
<line x1="489.0" y1="471.7" x2="499.7" y2="471.7" stroke="#111" stroke-width="2.4"/><path d="M511.2 471.7 L497.7 479.4 L497.7 463.9Z" fill="#111"/>
<line x1="488.2" y1="507.5" x2="498.0" y2="512.0" stroke="#111" stroke-width="2.4"/><path d="M508.5 516.8 L493.0 518.2 L499.5 504.1Z" fill="#111"/>
<line x1="488.4" y1="610.0" x2="497.3" y2="605.7" stroke="#111" stroke-width="2.4"/><path d="M507.6 600.6 L498.9 613.5 L492.1 599.6Z" fill="#111"/>
<line x1="488.4" y1="649.0" x2="497.5" y2="649.4" stroke="#111" stroke-width="2.4"/><path d="M509.0 650.0 L495.1 657.1 L495.9 641.6Z" fill="#111"/>
<line x1="488.4" y1="730.6" x2="497.9" y2="728.0" stroke="#111" stroke-width="2.4"/><path d="M509.0 725.0 L498.0 736.0 L493.9 721.1Z" fill="#111"/>
<line x1="622.0" y1="471.6" x2="631.5" y2="471.6" stroke="#111" stroke-width="2.4"/><path d="M643.5 471.6 L629.5 479.9 L629.5 463.4Z" fill="#111"/>
<line x1="622.0" y1="532.5" x2="631.5" y2="532.5" stroke="#111" stroke-width="2.4"/><path d="M643.5 532.5 L629.5 540.8 L629.5 524.2Z" fill="#111"/>
<line x1="622.0" y1="596.5" x2="631.5" y2="596.5" stroke="#111" stroke-width="2.4"/><path d="M643.5 596.5 L629.5 604.8 L629.5 588.2Z" fill="#111"/>
<line x1="622.0" y1="654.8" x2="631.5" y2="654.8" stroke="#111" stroke-width="2.4"/><path d="M643.5 654.8 L629.5 663.0 L629.5 646.5Z" fill="#111"/>
<line x1="622.0" y1="720.2" x2="631.5" y2="720.2" stroke="#111" stroke-width="2.4"/><path d="M643.5 720.2 L629.5 728.5 L629.5 712.0Z" fill="#111"/>
<rect x="657.1" y="449" width="291.8" height="45" fill="#141414"/>
<rect x="659.6" y="451.4" width="275.8" height="40.3" fill="#dc291b"/>
<rect x="657.1" y="510.6" width="291.8" height="45" fill="#141414"/>
<rect x="659.6" y="513.0" width="210.5" height="40.3" fill="#dc291b"/>
<rect x="657.1" y="572.6" width="291.8" height="45" fill="#141414"/>
<rect x="659.6" y="575.0" width="143.0" height="40.3" fill="#dc291b"/>
<rect x="657.1" y="633.8" width="291.8" height="45" fill="#141414"/>
<rect x="659.6" y="636.1999999999999" width="72.4" height="40.3" fill="#dc291b"/>
<rect x="657.1" y="695.8" width="291.8" height="45" fill="#141414"/>
<path d="M856.9 528.1999999999999 V538.6 M856.9 533.4 H872.9" stroke="#111" stroke-width="2.6" stroke-linecap="round" fill="none"/>
<path d="M788.4 590.0 V600.4000000000001 M788.4 595.2 H804.4" stroke="#111" stroke-width="2.6" stroke-linecap="round" fill="none"/>
<path d="M724.2 651.8 V662.2 M724.2 657.0 H740.2" stroke="#111" stroke-width="2.6" stroke-linecap="round" fill="none"/>
<text transform="translate(675.60 482.00) scale(0.94 1)" font-size="32.4" fill="#fff" stroke="#fff" stroke-width="0.3">Mobile</text>
<text transform="translate(934.60 729.80) scale(0.94 1)" font-size="32.4" text-anchor="end" fill="#fff" stroke="#fff" stroke-width="0.3">Immobile</text>
<path d="M658.2 752.6 V746.5 H947.8 V752.6 M803 746.5 V752.6" stroke="#111" stroke-width="2.1" fill="none"/>
<text x="658.2" y="771.0" font-size="23" text-anchor="middle" fill="#111" stroke="#111" stroke-width="0.38">0</text>
<text x="803.0" y="771.0" font-size="23" text-anchor="middle" fill="#111" stroke="#111" stroke-width="0.38">0.5</text>
<path d="M950.26 771.00 L950.26 754.62 L948.54 754.62 C948.08 756.28 946.47 757.54 943.71 757.66 L943.71 759.85 C945.55 759.73 947.16 759.27 947.96 758.47 L947.96 771.00Z" fill="#111"/>
<text transform="translate(807.50 795.20) scale(0.965 1)" font-size="27.8" text-anchor="middle" fill="#111" stroke="#111" stroke-width="0.38">Fraction</text>
<rect x="524.8" y="460.2" width="81.9" height="21.7" fill="#c6c7c7"/><line x1="524.4" y1="460.2" x2="607.1" y2="460.2" stroke="#00a651" stroke-width="5.2" stroke-linecap="round"/><line x1="524.4" y1="481.9" x2="607.1" y2="481.9" stroke="#00a651" stroke-width="5.2" stroke-linecap="round"/>
<rect x="524.8" y="526.2" width="81.9" height="10.7" fill="#c6c7c7"/><line x1="524.4" y1="526.2" x2="607.1" y2="526.2" stroke="#989898" stroke-width="5.3" stroke-linecap="round"/><line x1="524.4" y1="536.9" x2="607.1" y2="536.9" stroke="#00a651" stroke-width="5.3" stroke-linecap="round"/>
<rect x="524.8" y="591.0" width="81.9" height="11.0" fill="#c6c7c7"/><line x1="524.4" y1="591.0" x2="607.1" y2="591.0" stroke="#00a651" stroke-width="5.3" stroke-linecap="round"/><line x1="524.4" y1="602.0" x2="607.1" y2="602.0" stroke="#989898" stroke-width="5.3" stroke-linecap="round"/>
<rect x="524.8" y="649.0" width="81.9" height="10.7" fill="#c6c7c7"/><line x1="524.4" y1="649.0" x2="607.1" y2="649.0" stroke="#00a651" stroke-width="5.3" stroke-linecap="round"/><line x1="524.4" y1="659.7" x2="607.1" y2="659.7" stroke="#00a651" stroke-width="5.3" stroke-linecap="round"/>
<rect x="524.8" y="714.6" width="81.9" height="10.8" fill="#c6c7c7"/><line x1="524.4" y1="714.6" x2="607.1" y2="714.6" stroke="#989898" stroke-width="5.3" stroke-linecap="round"/><line x1="524.4" y1="725.4" x2="607.1" y2="725.4" stroke="#989898" stroke-width="5.3" stroke-linecap="round"/>
<path d="M533.55 530.50 L533.86 530.46 L534.18 530.34 L534.49 530.14 L534.81 529.86 L535.12 529.52 L535.44 529.11 L535.75 528.64 L536.07 528.12 L536.38 527.57 L536.70 526.98 L537.01 526.37 L537.33 525.75 L537.64 525.13 L537.95 524.52 L538.27 523.93 L538.58 523.38 L538.90 522.86 L539.21 522.39 L539.53 521.98 L539.84 521.64 L540.16 521.36 L540.47 521.16 L540.79 521.04 L541.10 521.00 L546.90 521.00 L546.59 521.04 L546.27 521.16 L545.96 521.36 L545.64 521.64 L545.33 521.98 L545.01 522.39 L544.70 522.86 L544.38 523.38 L544.07 523.93 L543.75 524.52 L543.44 525.13 L543.12 525.75 L542.81 526.37 L542.50 526.98 L542.18 527.57 L541.87 528.12 L541.55 528.64 L541.24 529.11 L540.92 529.52 L540.61 529.86 L540.29 530.14 L539.98 530.34 L539.66 530.46 L539.35 530.50Z" fill="#141414" stroke="#141414" stroke-width="1.2" stroke-linejoin="round"/><path d="M548.65 530.50 L548.96 530.46 L549.28 530.34 L549.59 530.14 L549.91 529.86 L550.22 529.52 L550.54 529.11 L550.85 528.64 L551.17 528.12 L551.48 527.57 L551.80 526.98 L552.11 526.37 L552.42 525.75 L552.74 525.13 L553.05 524.52 L553.37 523.93 L553.68 523.38 L554.00 522.86 L554.31 522.39 L554.63 521.98 L554.94 521.64 L555.26 521.36 L555.57 521.16 L555.89 521.04 L556.20 521.00 L562.00 521.00 L561.69 521.04 L561.37 521.16 L561.06 521.36 L560.74 521.64 L560.43 521.98 L560.11 522.39 L559.80 522.86 L559.48 523.38 L559.17 523.93 L558.85 524.52 L558.54 525.13 L558.22 525.75 L557.91 526.37 L557.60 526.98 L557.28 527.57 L556.97 528.12 L556.65 528.64 L556.34 529.11 L556.02 529.52 L555.71 529.86 L555.39 530.14 L555.08 530.34 L554.76 530.46 L554.45 530.50Z" fill="#141414" stroke="#141414" stroke-width="1.2" stroke-linejoin="round"/><path d="M563.75 530.50 L564.06 530.46 L564.38 530.34 L564.69 530.14 L565.01 529.86 L565.32 529.52 L565.64 529.11 L565.95 528.64 L566.27 528.12 L566.58 527.57 L566.90 526.98 L567.21 526.37 L567.52 525.75 L568.02 525.13 L568.52 524.52 L569.01 523.93 L569.51 523.38 L570.00 522.86 L570.50 522.39 L571.00 521.98 L571.49 521.64 L571.99 521.36 L572.48 521.16 L572.98 521.04 L573.47 521.00 L574.92 521.00 L574.79 521.04 L574.66 521.16 L574.52 521.36 L574.39 521.64 L574.26 521.98 L574.12 522.39 L573.99 522.86 L573.86 523.38 L573.73 523.93 L573.59 524.52 L573.46 525.13 L573.32 525.75 L573.01 526.37 L572.70 526.98 L572.38 527.57 L572.07 528.12 L571.75 528.64 L571.44 529.11 L571.12 529.52 L570.81 529.86 L570.49 530.14 L570.18 530.34 L569.86 530.46 L569.55 530.50Z" fill="#141414" stroke="#141414" stroke-width="1.2" stroke-linejoin="round"/><path d="M528.17 521.00 L528.31 521.04 L528.44 521.16 L528.58 521.36 L528.71 521.64 L528.84 521.98 L528.98 522.39 L529.11 522.86 L529.24 523.38 L529.37 523.93 L529.51 524.52 L529.64 525.13 L529.77 525.75 L530.09 526.37 L530.40 526.98 L530.72 527.57 L531.03 528.12 L531.35 528.64 L531.66 529.11 L531.98 529.52 L532.29 529.86 L532.61 530.14 L532.92 530.34 L533.24 530.46 L533.55 530.50 L539.35 530.50 L539.04 530.46 L538.72 530.34 L538.41 530.14 L538.09 529.86 L537.78 529.52 L537.46 529.11 L537.15 528.64 L536.83 528.12 L536.52 527.57 L536.20 526.98 L535.89 526.37 L535.57 525.75 L535.08 525.13 L534.58 524.52 L534.09 523.93 L533.59 523.38 L533.10 522.86 L532.60 522.39 L532.10 521.98 L531.61 521.64 L531.11 521.36 L530.62 521.16 L530.12 521.04 L529.62 521.00Z" fill="url(#gg)" stroke="#1a1a1a" stroke-width="0.8" stroke-linejoin="round"/><path d="M541.10 521.00 L541.41 521.04 L541.73 521.16 L542.04 521.36 L542.36 521.64 L542.67 521.98 L542.99 522.39 L543.30 522.86 L543.62 523.38 L543.93 523.93 L544.25 524.52 L544.56 525.13 L544.88 525.75 L545.19 526.37 L545.50 526.98 L545.82 527.57 L546.13 528.12 L546.45 528.64 L546.76 529.11 L547.08 529.52 L547.39 529.86 L547.71 530.14 L548.02 530.34 L548.34 530.46 L548.65 530.50 L554.45 530.50 L554.14 530.46 L553.82 530.34 L553.51 530.14 L553.19 529.86 L552.88 529.52 L552.56 529.11 L552.25 528.64 L551.93 528.12 L551.62 527.57 L551.30 526.98 L550.99 526.37 L550.67 525.75 L550.36 525.13 L550.05 524.52 L549.73 523.93 L549.42 523.38 L549.10 522.86 L548.79 522.39 L548.47 521.98 L548.16 521.64 L547.84 521.36 L547.53 521.16 L547.21 521.04 L546.90 521.00Z" fill="url(#gg)" stroke="#1a1a1a" stroke-width="0.8" stroke-linejoin="round"/><path d="M556.20 521.00 L556.51 521.04 L556.83 521.16 L557.14 521.36 L557.46 521.64 L557.77 521.98 L558.09 522.39 L558.40 522.86 L558.72 523.38 L559.03 523.93 L559.35 524.52 L559.66 525.13 L559.98 525.75 L560.29 526.37 L560.60 526.98 L560.92 527.57 L561.23 528.12 L561.55 528.64 L561.86 529.11 L562.18 529.52 L562.49 529.86 L562.81 530.14 L563.12 530.34 L563.44 530.46 L563.75 530.50 L569.55 530.50 L569.24 530.46 L568.92 530.34 L568.61 530.14 L568.29 529.86 L567.98 529.52 L567.66 529.11 L567.35 528.64 L567.03 528.12 L566.72 527.57 L566.40 526.98 L566.09 526.37 L565.77 525.75 L565.46 525.13 L565.15 524.52 L564.83 523.93 L564.52 523.38 L564.20 522.86 L563.89 522.39 L563.57 521.98 L563.26 521.64 L562.94 521.36 L562.63 521.16 L562.31 521.04 L562.00 521.00Z" fill="url(#gg)" stroke="#1a1a1a" stroke-width="0.8" stroke-linejoin="round"/>
<path d="M594.82 505.58 L594.79 505.73 L594.83 505.90 L594.96 506.09 L595.15 506.31 L595.42 506.54 L595.75 506.79 L596.13 507.05 L596.56 507.33 L597.03 507.62 L597.54 507.91 L598.06 508.21 L598.59 508.52 L599.05 508.98 L599.49 509.43 L599.91 509.89 L600.30 510.33 L600.66 510.76 L600.96 511.18 L601.21 511.59 L601.40 511.97 L601.51 512.34 L601.55 512.69 L601.52 513.02 L601.41 513.33 L598.86 518.31 L598.97 518.00 L599.00 517.68 L598.96 517.33 L598.84 516.96 L598.66 516.57 L598.41 516.17 L598.10 515.75 L597.75 515.31 L597.36 514.87 L596.94 514.42 L596.49 513.96 L596.04 513.50 L595.67 512.89 L595.30 512.27 L594.96 511.67 L594.65 511.07 L594.37 510.48 L594.15 509.90 L593.98 509.34 L593.88 508.80 L593.84 508.28 L593.88 507.77 L593.99 507.29 L594.18 506.82Z" fill="#141414" stroke="#141414" stroke-width="1.2" stroke-linejoin="round"/><path d="M588.48 517.95 L588.37 518.26 L588.33 518.58 L588.38 518.93 L588.49 519.30 L588.68 519.69 L588.93 520.09 L589.23 520.51 L589.58 520.95 L589.98 521.39 L590.40 521.84 L590.84 522.30 L591.30 522.76 L591.75 523.22 L592.19 523.67 L592.62 524.13 L593.01 524.57 L593.36 525.00 L593.67 525.42 L593.91 525.83 L594.10 526.21 L594.22 526.58 L594.26 526.93 L594.23 527.26 L594.11 527.57 L591.56 532.55 L591.67 532.24 L591.71 531.92 L591.66 531.57 L591.55 531.20 L591.36 530.81 L591.11 530.41 L590.81 529.99 L590.46 529.55 L590.06 529.11 L589.64 528.66 L589.20 528.20 L588.74 527.74 L588.29 527.28 L587.85 526.83 L587.42 526.37 L587.03 525.93 L586.68 525.50 L586.37 525.08 L586.13 524.67 L585.94 524.29 L585.82 523.92 L585.78 523.57 L585.81 523.24 L585.93 522.93Z" fill="#141414" stroke="#141414" stroke-width="1.2" stroke-linejoin="round"/><path d="M581.18 532.19 L581.07 532.50 L581.04 532.82 L581.08 533.17 L581.20 533.54 L581.38 533.93 L581.63 534.33 L581.94 534.75 L582.29 535.19 L582.68 535.63 L583.10 536.08 L583.55 536.54 L584.00 537.00 L584.45 537.46 L584.90 537.91 L585.32 538.37 L585.71 538.81 L586.07 539.24 L586.37 539.66 L586.62 540.07 L586.80 540.45 L586.92 540.82 L586.96 541.17 L586.93 541.50 L586.82 541.81 L584.26 546.79 L584.38 546.48 L584.41 546.16 L584.37 545.81 L584.25 545.44 L584.06 545.05 L583.82 544.65 L583.51 544.23 L583.16 543.79 L582.77 543.35 L582.34 542.90 L581.90 542.44 L581.45 541.98 L580.99 541.52 L580.55 541.07 L580.13 540.61 L579.74 540.17 L579.38 539.74 L579.08 539.32 L578.83 538.91 L578.64 538.53 L578.53 538.16 L578.49 537.81 L578.52 537.48 L578.63 537.17Z" fill="#141414" stroke="#141414" stroke-width="1.2" stroke-linejoin="round"/><path d="M601.41 513.33 L601.22 513.61 L600.95 513.88 L600.60 514.12 L600.18 514.35 L599.69 514.55 L599.14 514.74 L598.53 514.92 L597.87 515.08 L597.18 515.23 L596.45 515.37 L595.70 515.50 L594.94 515.64 L594.19 515.77 L593.44 515.91 L592.71 516.05 L592.02 516.20 L591.36 516.36 L590.75 516.53 L590.20 516.72 L589.71 516.93 L589.29 517.15 L588.94 517.40 L588.67 517.66 L588.48 517.95 L585.93 522.93 L586.12 522.65 L586.39 522.38 L586.74 522.14 L587.16 521.91 L587.65 521.71 L588.20 521.52 L588.81 521.34 L589.46 521.18 L590.16 521.03 L590.89 520.89 L591.63 520.76 L592.39 520.62 L593.15 520.49 L593.90 520.35 L594.62 520.21 L595.32 520.06 L595.98 519.90 L596.58 519.73 L597.14 519.54 L597.63 519.33 L598.05 519.11 L598.39 518.86 L598.66 518.60 L598.86 518.31Z" fill="url(#gg)" stroke="#1a1a1a" stroke-width="0.8" stroke-linejoin="round"/><path d="M594.11 527.57 L593.92 527.85 L593.65 528.12 L593.30 528.36 L592.88 528.59 L592.39 528.79 L591.84 528.98 L591.23 529.16 L590.58 529.32 L589.88 529.47 L589.15 529.61 L588.41 529.74 L587.65 529.88 L586.89 530.01 L586.14 530.15 L585.42 530.29 L584.72 530.44 L584.06 530.60 L583.46 530.77 L582.90 530.96 L582.41 531.17 L581.99 531.39 L581.65 531.64 L581.38 531.90 L581.18 532.19 L578.63 537.17 L578.82 536.89 L579.09 536.62 L579.44 536.38 L579.86 536.15 L580.35 535.95 L580.90 535.76 L581.51 535.58 L582.17 535.42 L582.86 535.27 L583.59 535.13 L584.34 535.00 L585.10 534.86 L585.85 534.73 L586.60 534.59 L587.33 534.45 L588.02 534.30 L588.68 534.14 L589.29 533.97 L589.84 533.78 L590.33 533.57 L590.75 533.35 L591.10 533.10 L591.37 532.84 L591.56 532.55Z" fill="url(#gg)" stroke="#1a1a1a" stroke-width="0.8" stroke-linejoin="round"/><path d="M586.82 541.81 L586.63 542.09 L586.35 542.36 L586.01 542.60 L585.59 542.83 L585.10 543.03 L584.55 543.22 L583.94 543.40 L583.28 543.56 L582.58 543.71 L581.86 543.85 L581.11 543.98 L580.35 544.12 L579.52 544.41 L578.69 544.70 L577.88 545.00 L577.11 545.30 L576.37 545.62 L575.68 545.95 L575.05 546.29 L574.48 546.65 L573.98 547.03 L573.55 547.43 L573.20 547.86 L572.93 548.30 L572.29 549.54 L572.40 549.41 L572.60 549.30 L572.86 549.22 L573.20 549.15 L573.61 549.10 L574.09 549.06 L574.61 549.05 L575.19 549.04 L575.81 549.05 L576.45 549.06 L577.12 549.08 L577.80 549.10 L578.56 548.97 L579.30 548.83 L580.03 548.69 L580.73 548.54 L581.38 548.38 L581.99 548.21 L582.54 548.02 L583.03 547.81 L583.45 547.59 L583.80 547.34 L584.07 547.08 L584.26 546.79Z" fill="url(#gg)" stroke="#1a1a1a" stroke-width="0.8" stroke-linejoin="round"/>
<path d="M555.5 516.6 C562 514.2 572 515 578 517.4 C580.5 518.6 579.5 520.6 576 521" stroke="#333" stroke-width="0.8" fill="none"/><path d="M581.3 521.5 C584 512 590 503.5 595.3 502.4 C596.5 502.4 596.5 504.5 595.2 506.2" stroke="#333" stroke-width="0.8" fill="none"/>
<path d="M533.55 595.35 L533.86 595.31 L534.18 595.19 L534.49 594.99 L534.81 594.71 L535.12 594.37 L535.44 593.96 L535.75 593.49 L536.07 592.98 L536.38 592.42 L536.70 591.83 L537.01 591.22 L537.33 590.60 L537.64 589.98 L537.95 589.37 L538.27 588.78 L538.58 588.23 L538.90 587.71 L539.21 587.24 L539.53 586.83 L539.84 586.49 L540.16 586.21 L540.47 586.01 L540.79 585.89 L541.10 585.85 L546.90 585.85 L546.59 585.89 L546.27 586.01 L545.96 586.21 L545.64 586.49 L545.33 586.83 L545.01 587.24 L544.70 587.71 L544.38 588.23 L544.07 588.78 L543.75 589.37 L543.44 589.98 L543.12 590.60 L542.81 591.22 L542.50 591.83 L542.18 592.42 L541.87 592.98 L541.55 593.49 L541.24 593.96 L540.92 594.37 L540.61 594.71 L540.29 594.99 L539.98 595.19 L539.66 595.31 L539.35 595.35Z" fill="#141414" stroke="#141414" stroke-width="1.2" stroke-linejoin="round"/><path d="M548.65 595.35 L548.96 595.31 L549.28 595.19 L549.59 594.99 L549.91 594.71 L550.22 594.37 L550.54 593.96 L550.85 593.49 L551.17 592.98 L551.48 592.42 L551.80 591.83 L552.11 591.22 L552.42 590.60 L552.74 589.98 L553.05 589.37 L553.37 588.78 L553.68 588.23 L554.00 587.71 L554.31 587.24 L554.63 586.83 L554.94 586.49 L555.26 586.21 L555.57 586.01 L555.89 585.89 L556.20 585.85 L562.00 585.85 L561.69 585.89 L561.37 586.01 L561.06 586.21 L560.74 586.49 L560.43 586.83 L560.11 587.24 L559.80 587.71 L559.48 588.23 L559.17 588.78 L558.85 589.37 L558.54 589.98 L558.22 590.60 L557.91 591.22 L557.60 591.83 L557.28 592.42 L556.97 592.98 L556.65 593.49 L556.34 593.96 L556.02 594.37 L555.71 594.71 L555.39 594.99 L555.08 595.19 L554.76 595.31 L554.45 595.35Z" fill="#141414" stroke="#141414" stroke-width="1.2" stroke-linejoin="round"/><path d="M563.75 595.35 L564.06 595.31 L564.38 595.19 L564.69 594.99 L565.01 594.71 L565.32 594.37 L565.64 593.96 L565.95 593.49 L566.27 592.98 L566.58 592.42 L566.90 591.83 L567.21 591.22 L567.52 590.60 L568.02 589.98 L568.52 589.37 L569.01 588.78 L569.51 588.23 L570.00 587.71 L570.50 587.24 L571.00 586.83 L571.49 586.49 L571.99 586.21 L572.48 586.01 L572.98 585.89 L573.47 585.85 L574.92 585.85 L574.79 585.89 L574.66 586.01 L574.52 586.21 L574.39 586.49 L574.26 586.83 L574.12 587.24 L573.99 587.71 L573.86 588.23 L573.73 588.78 L573.59 589.37 L573.46 589.98 L573.32 590.60 L573.01 591.22 L572.70 591.83 L572.38 592.42 L572.07 592.98 L571.75 593.49 L571.44 593.96 L571.12 594.37 L570.81 594.71 L570.49 594.99 L570.18 595.19 L569.86 595.31 L569.55 595.35Z" fill="#141414" stroke="#141414" stroke-width="1.2" stroke-linejoin="round"/><path d="M528.17 585.85 L528.31 585.89 L528.44 586.01 L528.58 586.21 L528.71 586.49 L528.84 586.83 L528.98 587.24 L529.11 587.71 L529.24 588.23 L529.37 588.78 L529.51 589.37 L529.64 589.98 L529.77 590.60 L530.09 591.22 L530.40 591.83 L530.72 592.42 L531.03 592.98 L531.35 593.49 L531.66 593.96 L531.98 594.37 L532.29 594.71 L532.61 594.99 L532.92 595.19 L533.24 595.31 L533.55 595.35 L539.35 595.35 L539.04 595.31 L538.72 595.19 L538.41 594.99 L538.09 594.71 L537.78 594.37 L537.46 593.96 L537.15 593.49 L536.83 592.98 L536.52 592.42 L536.20 591.83 L535.89 591.22 L535.57 590.60 L535.08 589.98 L534.58 589.37 L534.09 588.78 L533.59 588.23 L533.10 587.71 L532.60 587.24 L532.10 586.83 L531.61 586.49 L531.11 586.21 L530.62 586.01 L530.12 585.89 L529.62 585.85Z" fill="url(#gg)" stroke="#1a1a1a" stroke-width="0.8" stroke-linejoin="round"/><path d="M541.10 585.85 L541.41 585.89 L541.73 586.01 L542.04 586.21 L542.36 586.49 L542.67 586.83 L542.99 587.24 L543.30 587.71 L543.62 588.23 L543.93 588.78 L544.25 589.37 L544.56 589.98 L544.88 590.60 L545.19 591.22 L545.50 591.83 L545.82 592.42 L546.13 592.98 L546.45 593.49 L546.76 593.96 L547.08 594.37 L547.39 594.71 L547.71 594.99 L548.02 595.19 L548.34 595.31 L548.65 595.35 L554.45 595.35 L554.14 595.31 L553.82 595.19 L553.51 594.99 L553.19 594.71 L552.88 594.37 L552.56 593.96 L552.25 593.49 L551.93 592.98 L551.62 592.42 L551.30 591.83 L550.99 591.22 L550.67 590.60 L550.36 589.98 L550.05 589.37 L549.73 588.78 L549.42 588.23 L549.10 587.71 L548.79 587.24 L548.47 586.83 L548.16 586.49 L547.84 586.21 L547.53 586.01 L547.21 585.89 L546.90 585.85Z" fill="url(#gg)" stroke="#1a1a1a" stroke-width="0.8" stroke-linejoin="round"/><path d="M556.20 585.85 L556.51 585.89 L556.83 586.01 L557.14 586.21 L557.46 586.49 L557.77 586.83 L558.09 587.24 L558.40 587.71 L558.72 588.23 L559.03 588.78 L559.35 589.37 L559.66 589.98 L559.98 590.60 L560.29 591.22 L560.60 591.83 L560.92 592.42 L561.23 592.98 L561.55 593.49 L561.86 593.96 L562.18 594.37 L562.49 594.71 L562.81 594.99 L563.12 595.19 L563.44 595.31 L563.75 595.35 L569.55 595.35 L569.24 595.31 L568.92 595.19 L568.61 594.99 L568.29 594.71 L567.98 594.37 L567.66 593.96 L567.35 593.49 L567.03 592.98 L566.72 592.42 L566.40 591.83 L566.09 591.22 L565.77 590.60 L565.46 589.98 L565.15 589.37 L564.83 588.78 L564.52 588.23 L564.20 587.71 L563.89 587.24 L563.57 586.83 L563.26 586.49 L562.94 586.21 L562.63 586.01 L562.31 585.89 L562.00 585.85Z" fill="url(#gg)" stroke="#1a1a1a" stroke-width="0.8" stroke-linejoin="round"/>
<path d="M594.82 570.43 L594.79 570.58 L594.83 570.75 L594.96 570.94 L595.15 571.16 L595.42 571.39 L595.75 571.64 L596.13 571.90 L596.56 572.18 L597.03 572.47 L597.54 572.76 L598.06 573.06 L598.59 573.37 L599.05 573.83 L599.49 574.28 L599.91 574.74 L600.30 575.18 L600.66 575.61 L600.96 576.03 L601.21 576.44 L601.40 576.82 L601.51 577.19 L601.55 577.54 L601.52 577.87 L601.41 578.18 L598.86 583.16 L598.97 582.85 L599.00 582.53 L598.96 582.18 L598.84 581.81 L598.66 581.42 L598.41 581.02 L598.10 580.60 L597.75 580.16 L597.36 579.72 L596.94 579.27 L596.49 578.81 L596.04 578.35 L595.67 577.74 L595.30 577.12 L594.96 576.52 L594.65 575.92 L594.37 575.33 L594.15 574.75 L593.98 574.19 L593.88 573.65 L593.84 573.13 L593.88 572.62 L593.99 572.14 L594.18 571.67Z" fill="#141414" stroke="#141414" stroke-width="1.2" stroke-linejoin="round"/><path d="M588.48 582.80 L588.37 583.11 L588.33 583.43 L588.38 583.78 L588.49 584.15 L588.68 584.54 L588.93 584.94 L589.23 585.36 L589.58 585.80 L589.98 586.24 L590.40 586.69 L590.84 587.15 L591.30 587.61 L591.75 588.07 L592.19 588.52 L592.62 588.98 L593.01 589.42 L593.36 589.85 L593.67 590.27 L593.91 590.68 L594.10 591.06 L594.22 591.43 L594.26 591.78 L594.23 592.11 L594.11 592.42 L591.56 597.40 L591.67 597.09 L591.71 596.77 L591.66 596.42 L591.55 596.05 L591.36 595.66 L591.11 595.26 L590.81 594.84 L590.46 594.40 L590.06 593.96 L589.64 593.51 L589.20 593.05 L588.74 592.59 L588.29 592.13 L587.85 591.68 L587.42 591.22 L587.03 590.78 L586.68 590.35 L586.37 589.93 L586.13 589.52 L585.94 589.14 L585.82 588.77 L585.78 588.42 L585.81 588.09 L585.93 587.78Z" fill="#141414" stroke="#141414" stroke-width="1.2" stroke-linejoin="round"/><path d="M581.18 597.04 L581.07 597.35 L581.04 597.67 L581.08 598.02 L581.20 598.39 L581.38 598.78 L581.63 599.18 L581.94 599.60 L582.29 600.04 L582.68 600.48 L583.10 600.93 L583.55 601.39 L584.00 601.85 L584.45 602.31 L584.90 602.76 L585.32 603.22 L585.71 603.66 L586.07 604.09 L586.37 604.51 L586.62 604.92 L586.80 605.30 L586.92 605.67 L586.96 606.02 L586.93 606.35 L586.82 606.66 L584.26 611.64 L584.38 611.33 L584.41 611.01 L584.37 610.66 L584.25 610.29 L584.06 609.90 L583.82 609.50 L583.51 609.08 L583.16 608.64 L582.77 608.20 L582.34 607.75 L581.90 607.29 L581.45 606.83 L580.99 606.37 L580.55 605.92 L580.13 605.46 L579.74 605.02 L579.38 604.59 L579.08 604.17 L578.83 603.76 L578.64 603.38 L578.53 603.01 L578.49 602.66 L578.52 602.33 L578.63 602.02Z" fill="#141414" stroke="#141414" stroke-width="1.2" stroke-linejoin="round"/><path d="M601.41 578.18 L601.22 578.46 L600.95 578.73 L600.60 578.97 L600.18 579.20 L599.69 579.40 L599.14 579.59 L598.53 579.77 L597.87 579.93 L597.18 580.08 L596.45 580.22 L595.70 580.35 L594.94 580.49 L594.19 580.62 L593.44 580.76 L592.71 580.90 L592.02 581.05 L591.36 581.21 L590.75 581.38 L590.20 581.57 L589.71 581.78 L589.29 582.00 L588.94 582.25 L588.67 582.51 L588.48 582.80 L585.93 587.78 L586.12 587.50 L586.39 587.23 L586.74 586.99 L587.16 586.76 L587.65 586.56 L588.20 586.37 L588.81 586.19 L589.46 586.03 L590.16 585.88 L590.89 585.74 L591.63 585.61 L592.39 585.47 L593.15 585.34 L593.90 585.20 L594.62 585.06 L595.32 584.91 L595.98 584.75 L596.58 584.58 L597.14 584.39 L597.63 584.18 L598.05 583.96 L598.39 583.71 L598.66 583.45 L598.86 583.16Z" fill="url(#gg)" stroke="#1a1a1a" stroke-width="0.8" stroke-linejoin="round"/><path d="M594.11 592.42 L593.92 592.70 L593.65 592.97 L593.30 593.21 L592.88 593.44 L592.39 593.64 L591.84 593.83 L591.23 594.01 L590.58 594.17 L589.88 594.32 L589.15 594.46 L588.41 594.59 L587.65 594.73 L586.89 594.86 L586.14 595.00 L585.42 595.14 L584.72 595.29 L584.06 595.45 L583.46 595.62 L582.90 595.81 L582.41 596.02 L581.99 596.24 L581.65 596.49 L581.38 596.75 L581.18 597.04 L578.63 602.02 L578.82 601.74 L579.09 601.47 L579.44 601.23 L579.86 601.00 L580.35 600.80 L580.90 600.61 L581.51 600.43 L582.17 600.27 L582.86 600.12 L583.59 599.98 L584.34 599.85 L585.10 599.71 L585.85 599.58 L586.60 599.44 L587.33 599.30 L588.02 599.15 L588.68 598.99 L589.29 598.82 L589.84 598.63 L590.33 598.42 L590.75 598.20 L591.10 597.95 L591.37 597.69 L591.56 597.40Z" fill="url(#gg)" stroke="#1a1a1a" stroke-width="0.8" stroke-linejoin="round"/><path d="M586.82 606.66 L586.63 606.94 L586.35 607.21 L586.01 607.45 L585.59 607.68 L585.10 607.88 L584.55 608.07 L583.94 608.25 L583.28 608.41 L582.58 608.56 L581.86 608.70 L581.11 608.83 L580.35 608.97 L579.52 609.26 L578.69 609.55 L577.88 609.85 L577.11 610.15 L576.37 610.47 L575.68 610.80 L575.05 611.14 L574.48 611.50 L573.98 611.88 L573.55 612.28 L573.20 612.71 L572.93 613.15 L572.29 614.39 L572.40 614.26 L572.60 614.15 L572.86 614.07 L573.20 614.00 L573.61 613.95 L574.09 613.91 L574.61 613.90 L575.19 613.89 L575.81 613.90 L576.45 613.91 L577.12 613.93 L577.80 613.95 L578.56 613.82 L579.30 613.68 L580.03 613.54 L580.73 613.39 L581.38 613.23 L581.99 613.06 L582.54 612.87 L583.03 612.66 L583.45 612.44 L583.80 612.19 L584.07 611.93 L584.26 611.64Z" fill="url(#gg)" stroke="#1a1a1a" stroke-width="0.8" stroke-linejoin="round"/>
<path d="M555.5 581.45 C562 579.0500000000001 572 579.85 578 582.25 C580.5 583.45 579.5 585.45 576 585.85" stroke="#333" stroke-width="0.8" fill="none"/><path d="M581.3 586.35 C584 576.85 590 568.35 595.3 567.25 C596.5 567.25 596.5 569.35 595.2 571.05" stroke="#333" stroke-width="0.8" fill="none"/>
<path d="M539.75 652.60 L540.06 652.56 L540.38 652.45 L540.69 652.26 L541.01 652.00 L541.32 651.68 L541.64 651.30 L541.95 650.86 L542.27 650.38 L542.58 649.85 L542.90 649.30 L543.21 648.73 L543.53 648.15 L543.84 647.57 L544.15 647.00 L544.47 646.45 L544.78 645.93 L545.10 645.44 L545.41 645.00 L545.73 644.62 L546.04 644.30 L546.36 644.04 L546.67 643.85 L546.99 643.74 L547.30 643.70 L553.10 643.70 L552.79 643.74 L552.47 643.85 L552.16 644.04 L551.84 644.30 L551.53 644.62 L551.21 645.00 L550.90 645.44 L550.58 645.93 L550.27 646.45 L549.95 647.00 L549.64 647.57 L549.33 648.15 L549.01 648.73 L548.70 649.30 L548.38 649.85 L548.07 650.38 L547.75 650.86 L547.44 651.30 L547.12 651.68 L546.81 652.00 L546.49 652.26 L546.18 652.45 L545.86 652.56 L545.55 652.60Z" fill="#141414" stroke="#141414" stroke-width="1.2" stroke-linejoin="round"/><path d="M554.85 652.60 L555.16 652.56 L555.48 652.45 L555.79 652.26 L556.11 652.00 L556.42 651.68 L556.74 651.30 L557.05 650.86 L557.37 650.38 L557.68 649.85 L558.00 649.30 L558.31 648.73 L558.62 648.15 L558.94 647.57 L559.25 647.00 L559.57 646.45 L559.88 645.93 L560.20 645.44 L560.51 645.00 L560.83 644.62 L561.14 644.30 L561.46 644.04 L561.77 643.85 L562.09 643.74 L562.40 643.70 L568.20 643.70 L567.89 643.74 L567.57 643.85 L567.26 644.04 L566.94 644.30 L566.63 644.62 L566.31 645.00 L566.00 645.44 L565.68 645.93 L565.37 646.45 L565.05 647.00 L564.74 647.57 L564.42 648.15 L564.11 648.73 L563.80 649.30 L563.48 649.85 L563.17 650.38 L562.85 650.86 L562.54 651.30 L562.22 651.68 L561.91 652.00 L561.59 652.26 L561.28 652.45 L560.96 652.56 L560.65 652.60Z" fill="#141414" stroke="#141414" stroke-width="1.2" stroke-linejoin="round"/><path d="M569.95 652.60 L570.26 652.56 L570.58 652.45 L570.89 652.26 L571.21 652.00 L571.52 651.68 L571.84 651.30 L572.15 650.86 L572.47 650.38 L572.78 649.85 L573.10 649.30 L573.41 648.73 L573.73 648.15 L574.22 647.57 L574.72 647.00 L575.21 646.45 L575.71 645.93 L576.20 645.44 L576.70 645.00 L577.20 644.62 L577.69 644.30 L578.19 644.04 L578.68 643.85 L579.18 643.74 L579.67 643.70 L581.12 643.70 L580.99 643.74 L580.86 643.85 L580.73 644.04 L580.59 644.30 L580.46 644.62 L580.33 645.00 L580.19 645.44 L580.06 645.93 L579.93 646.45 L579.79 647.00 L579.66 647.57 L579.52 648.15 L579.21 648.73 L578.90 649.30 L578.58 649.85 L578.27 650.38 L577.95 650.86 L577.64 651.30 L577.32 651.68 L577.01 652.00 L576.69 652.26 L576.38 652.45 L576.06 652.56 L575.75 652.60Z" fill="#141414" stroke="#141414" stroke-width="1.2" stroke-linejoin="round"/><path d="M534.38 643.70 L534.51 643.74 L534.64 643.85 L534.78 644.04 L534.91 644.30 L535.04 644.62 L535.18 645.00 L535.31 645.44 L535.44 645.93 L535.57 646.45 L535.71 647.00 L535.84 647.57 L535.98 648.15 L536.29 648.73 L536.60 649.30 L536.92 649.85 L537.23 650.38 L537.55 650.86 L537.86 651.30 L538.18 651.68 L538.49 652.00 L538.81 652.26 L539.12 652.45 L539.44 652.56 L539.75 652.60 L545.55 652.60 L545.24 652.56 L544.92 652.45 L544.61 652.26 L544.29 652.00 L543.98 651.68 L543.66 651.30 L543.35 650.86 L543.03 650.38 L542.72 649.85 L542.40 649.30 L542.09 648.73 L541.77 648.15 L541.28 647.57 L540.78 647.00 L540.29 646.45 L539.79 645.93 L539.30 645.44 L538.80 645.00 L538.30 644.62 L537.81 644.30 L537.31 644.04 L536.82 643.85 L536.32 643.74 L535.83 643.70Z" fill="url(#gg)" stroke="#1a1a1a" stroke-width="0.8" stroke-linejoin="round"/><path d="M547.30 643.70 L547.61 643.74 L547.93 643.85 L548.24 644.04 L548.56 644.30 L548.87 644.62 L549.19 645.00 L549.50 645.44 L549.82 645.93 L550.13 646.45 L550.45 647.00 L550.76 647.57 L551.08 648.15 L551.39 648.73 L551.70 649.30 L552.02 649.85 L552.33 650.38 L552.65 650.86 L552.96 651.30 L553.28 651.68 L553.59 652.00 L553.91 652.26 L554.22 652.45 L554.54 652.56 L554.85 652.60 L560.65 652.60 L560.34 652.56 L560.02 652.45 L559.71 652.26 L559.39 652.00 L559.08 651.68 L558.76 651.30 L558.45 650.86 L558.13 650.38 L557.82 649.85 L557.50 649.30 L557.19 648.73 L556.88 648.15 L556.56 647.57 L556.25 647.00 L555.93 646.45 L555.62 645.93 L555.30 645.44 L554.99 645.00 L554.67 644.62 L554.36 644.30 L554.04 644.04 L553.73 643.85 L553.41 643.74 L553.10 643.70Z" fill="url(#gg)" stroke="#1a1a1a" stroke-width="0.8" stroke-linejoin="round"/><path d="M562.40 643.70 L562.71 643.74 L563.03 643.85 L563.34 644.04 L563.66 644.30 L563.97 644.62 L564.29 645.00 L564.60 645.44 L564.92 645.93 L565.23 646.45 L565.55 647.00 L565.86 647.57 L566.18 648.15 L566.49 648.73 L566.80 649.30 L567.12 649.85 L567.43 650.38 L567.75 650.86 L568.06 651.30 L568.38 651.68 L568.69 652.00 L569.01 652.26 L569.32 652.45 L569.64 652.56 L569.95 652.60 L575.75 652.60 L575.44 652.56 L575.12 652.45 L574.81 652.26 L574.49 652.00 L574.18 651.68 L573.86 651.30 L573.55 650.86 L573.23 650.38 L572.92 649.85 L572.60 649.30 L572.29 648.73 L571.98 648.15 L571.66 647.57 L571.35 647.00 L571.03 646.45 L570.72 645.93 L570.40 645.44 L570.09 645.00 L569.77 644.62 L569.46 644.30 L569.14 644.04 L568.83 643.85 L568.51 643.74 L568.20 643.70Z" fill="url(#gg)" stroke="#1a1a1a" stroke-width="0.8" stroke-linejoin="round"/>
<path d="M528.47 664.40 L528.61 664.36 L528.74 664.25 L528.88 664.06 L529.01 663.80 L529.14 663.48 L529.27 663.10 L529.41 662.66 L529.54 662.18 L529.67 661.65 L529.81 661.10 L529.94 660.53 L530.08 659.95 L530.39 659.37 L530.70 658.80 L531.02 658.25 L531.33 657.73 L531.65 657.24 L531.96 656.80 L532.28 656.42 L532.59 656.10 L532.91 655.84 L533.22 655.65 L533.54 655.54 L533.85 655.50 L539.65 655.50 L539.34 655.54 L539.02 655.65 L538.71 655.84 L538.39 656.10 L538.08 656.42 L537.76 656.80 L537.45 657.24 L537.13 657.73 L536.82 658.25 L536.50 658.80 L536.19 659.37 L535.88 659.95 L535.38 660.53 L534.88 661.10 L534.39 661.65 L533.89 662.18 L533.40 662.66 L532.90 663.10 L532.40 663.48 L531.91 663.80 L531.41 664.06 L530.92 664.25 L530.42 664.36 L529.92 664.40Z" fill="#141414" stroke="#141414" stroke-width="1.2" stroke-linejoin="round"/><path d="M541.40 664.40 L541.71 664.36 L542.03 664.25 L542.34 664.06 L542.66 663.80 L542.97 663.48 L543.29 663.10 L543.60 662.66 L543.92 662.18 L544.23 661.65 L544.55 661.10 L544.86 660.53 L545.17 659.95 L545.49 659.37 L545.80 658.80 L546.12 658.25 L546.43 657.73 L546.75 657.24 L547.06 656.80 L547.38 656.42 L547.69 656.10 L548.01 655.84 L548.32 655.65 L548.64 655.54 L548.95 655.50 L554.75 655.50 L554.44 655.54 L554.12 655.65 L553.81 655.84 L553.49 656.10 L553.18 656.42 L552.86 656.80 L552.55 657.24 L552.23 657.73 L551.92 658.25 L551.60 658.80 L551.29 659.37 L550.97 659.95 L550.66 660.53 L550.35 661.10 L550.03 661.65 L549.72 662.18 L549.40 662.66 L549.09 663.10 L548.77 663.48 L548.46 663.80 L548.14 664.06 L547.83 664.25 L547.51 664.36 L547.20 664.40Z" fill="#141414" stroke="#141414" stroke-width="1.2" stroke-linejoin="round"/><path d="M556.50 664.40 L556.81 664.36 L557.13 664.25 L557.44 664.06 L557.76 663.80 L558.07 663.48 L558.39 663.10 L558.70 662.66 L559.02 662.18 L559.33 661.65 L559.65 661.10 L559.96 660.53 L560.27 659.95 L560.59 659.37 L560.90 658.80 L561.22 658.25 L561.53 657.73 L561.85 657.24 L562.16 656.80 L562.48 656.42 L562.79 656.10 L563.11 655.84 L563.42 655.65 L563.74 655.54 L564.05 655.50 L569.85 655.50 L569.54 655.54 L569.22 655.65 L568.91 655.84 L568.59 656.10 L568.28 656.42 L567.96 656.80 L567.65 657.24 L567.33 657.73 L567.02 658.25 L566.70 658.80 L566.39 659.37 L566.07 659.95 L565.76 660.53 L565.45 661.10 L565.13 661.65 L564.82 662.18 L564.50 662.66 L564.19 663.10 L563.87 663.48 L563.56 663.80 L563.24 664.06 L562.93 664.25 L562.61 664.36 L562.30 664.40Z" fill="#141414" stroke="#141414" stroke-width="1.2" stroke-linejoin="round"/><path d="M533.85 655.50 L534.16 655.54 L534.48 655.65 L534.79 655.84 L535.11 656.10 L535.42 656.42 L535.74 656.80 L536.05 657.24 L536.37 657.73 L536.68 658.25 L537.00 658.80 L537.31 659.37 L537.62 659.95 L537.94 660.53 L538.25 661.10 L538.57 661.65 L538.88 662.18 L539.20 662.66 L539.51 663.10 L539.83 663.48 L540.14 663.80 L540.46 664.06 L540.77 664.25 L541.09 664.36 L541.40 664.40 L547.20 664.40 L546.89 664.36 L546.57 664.25 L546.26 664.06 L545.94 663.80 L545.63 663.48 L545.31 663.10 L545.00 662.66 L544.68 662.18 L544.37 661.65 L544.05 661.10 L543.74 660.53 L543.42 659.95 L543.11 659.37 L542.80 658.80 L542.48 658.25 L542.17 657.73 L541.85 657.24 L541.54 656.80 L541.22 656.42 L540.91 656.10 L540.59 655.84 L540.28 655.65 L539.96 655.54 L539.65 655.50Z" fill="url(#gg)" stroke="#1a1a1a" stroke-width="0.8" stroke-linejoin="round"/><path d="M548.95 655.50 L549.26 655.54 L549.58 655.65 L549.89 655.84 L550.21 656.10 L550.52 656.42 L550.84 656.80 L551.15 657.24 L551.47 657.73 L551.78 658.25 L552.10 658.80 L552.41 659.37 L552.73 659.95 L553.04 660.53 L553.35 661.10 L553.67 661.65 L553.98 662.18 L554.30 662.66 L554.61 663.10 L554.93 663.48 L555.24 663.80 L555.56 664.06 L555.87 664.25 L556.19 664.36 L556.50 664.40 L562.30 664.40 L561.99 664.36 L561.67 664.25 L561.36 664.06 L561.04 663.80 L560.73 663.48 L560.41 663.10 L560.10 662.66 L559.78 662.18 L559.47 661.65 L559.15 661.10 L558.84 660.53 L558.52 659.95 L558.21 659.37 L557.90 658.80 L557.58 658.25 L557.27 657.73 L556.95 657.24 L556.64 656.80 L556.32 656.42 L556.01 656.10 L555.69 655.84 L555.38 655.65 L555.06 655.54 L554.75 655.50Z" fill="url(#gg)" stroke="#1a1a1a" stroke-width="0.8" stroke-linejoin="round"/><path d="M564.05 655.50 L564.36 655.54 L564.68 655.65 L564.99 655.84 L565.31 656.10 L565.62 656.42 L565.94 656.80 L566.25 657.24 L566.57 657.73 L566.88 658.25 L567.20 658.80 L567.51 659.37 L567.83 659.95 L568.32 660.53 L568.82 661.10 L569.31 661.65 L569.81 662.18 L570.30 662.66 L570.80 663.10 L571.30 663.48 L571.79 663.80 L572.29 664.06 L572.78 664.25 L573.28 664.36 L573.77 664.40 L575.23 664.40 L575.09 664.36 L574.96 664.25 L574.82 664.06 L574.69 663.80 L574.56 663.48 L574.42 663.10 L574.29 662.66 L574.16 662.18 L574.02 661.65 L573.89 661.10 L573.76 660.53 L573.62 659.95 L573.31 659.37 L573.00 658.80 L572.68 658.25 L572.37 657.73 L572.05 657.24 L571.74 656.80 L571.42 656.42 L571.11 656.10 L570.79 655.84 L570.48 655.65 L570.16 655.54 L569.85 655.50Z" fill="url(#gg)" stroke="#1a1a1a" stroke-width="0.8" stroke-linejoin="round"/>
<path d="M598.02 628.58 L597.99 628.73 L598.03 628.90 L598.16 629.09 L598.35 629.31 L598.62 629.54 L598.95 629.79 L599.33 630.05 L599.76 630.33 L600.23 630.62 L600.74 630.91 L601.26 631.21 L601.79 631.52 L602.25 631.98 L602.69 632.43 L603.11 632.89 L603.50 633.33 L603.86 633.76 L604.16 634.18 L604.41 634.59 L604.60 634.97 L604.71 635.34 L604.75 635.69 L604.72 636.02 L604.61 636.33 L602.06 641.31 L602.17 641.00 L602.20 640.68 L602.16 640.33 L602.04 639.96 L601.86 639.57 L601.61 639.17 L601.30 638.75 L600.95 638.31 L600.56 637.87 L600.14 637.42 L599.69 636.96 L599.24 636.50 L598.87 635.89 L598.50 635.27 L598.16 634.67 L597.85 634.07 L597.57 633.48 L597.35 632.90 L597.18 632.34 L597.08 631.80 L597.04 631.28 L597.08 630.77 L597.19 630.29 L597.38 629.82Z" fill="#141414" stroke="#141414" stroke-width="1.2" stroke-linejoin="round"/><path d="M591.68 640.95 L591.57 641.26 L591.53 641.58 L591.58 641.93 L591.69 642.30 L591.88 642.69 L592.13 643.09 L592.43 643.51 L592.78 643.95 L593.18 644.39 L593.60 644.84 L594.04 645.30 L594.50 645.76 L594.95 646.22 L595.39 646.67 L595.82 647.13 L596.21 647.57 L596.56 648.00 L596.87 648.42 L597.11 648.83 L597.30 649.21 L597.42 649.58 L597.46 649.93 L597.43 650.26 L597.31 650.57 L594.76 655.55 L594.87 655.24 L594.91 654.92 L594.86 654.57 L594.75 654.20 L594.56 653.81 L594.31 653.41 L594.01 652.99 L593.66 652.55 L593.26 652.11 L592.84 651.66 L592.40 651.20 L591.94 650.74 L591.49 650.28 L591.05 649.83 L590.62 649.37 L590.23 648.93 L589.88 648.50 L589.57 648.08 L589.33 647.67 L589.14 647.29 L589.02 646.92 L588.98 646.57 L589.01 646.24 L589.13 645.93Z" fill="#141414" stroke="#141414" stroke-width="1.2" stroke-linejoin="round"/><path d="M584.38 655.19 L584.27 655.50 L584.24 655.82 L584.28 656.17 L584.40 656.54 L584.58 656.93 L584.83 657.33 L585.14 657.75 L585.49 658.19 L585.88 658.63 L586.30 659.08 L586.75 659.54 L587.20 660.00 L587.65 660.46 L588.10 660.91 L588.52 661.37 L588.91 661.81 L589.27 662.24 L589.57 662.66 L589.82 663.07 L590.00 663.45 L590.12 663.82 L590.16 664.17 L590.13 664.50 L590.02 664.81 L587.46 669.79 L587.58 669.48 L587.61 669.16 L587.57 668.81 L587.45 668.44 L587.26 668.05 L587.02 667.65 L586.71 667.23 L586.36 666.79 L585.97 666.35 L585.54 665.90 L585.10 665.44 L584.65 664.98 L584.19 664.52 L583.75 664.07 L583.33 663.61 L582.94 663.17 L582.58 662.74 L582.28 662.32 L582.03 661.91 L581.84 661.53 L581.73 661.16 L581.69 660.81 L581.72 660.48 L581.83 660.17Z" fill="#141414" stroke="#141414" stroke-width="1.2" stroke-linejoin="round"/><path d="M604.61 636.33 L604.42 636.61 L604.15 636.88 L603.80 637.12 L603.38 637.35 L602.89 637.55 L602.34 637.74 L601.73 637.92 L601.07 638.08 L600.38 638.23 L599.65 638.37 L598.90 638.50 L598.14 638.64 L597.39 638.77 L596.64 638.91 L595.91 639.05 L595.22 639.20 L594.56 639.36 L593.95 639.53 L593.40 639.72 L592.91 639.93 L592.49 640.15 L592.14 640.40 L591.87 640.66 L591.68 640.95 L589.13 645.93 L589.32 645.65 L589.59 645.38 L589.94 645.14 L590.36 644.91 L590.85 644.71 L591.40 644.52 L592.01 644.34 L592.66 644.18 L593.36 644.03 L594.09 643.89 L594.83 643.76 L595.59 643.62 L596.35 643.49 L597.10 643.35 L597.82 643.21 L598.52 643.06 L599.18 642.90 L599.78 642.73 L600.34 642.54 L600.83 642.33 L601.25 642.11 L601.59 641.86 L601.86 641.60 L602.06 641.31Z" fill="url(#gg)" stroke="#1a1a1a" stroke-width="0.8" stroke-linejoin="round"/><path d="M597.31 650.57 L597.12 650.85 L596.85 651.12 L596.50 651.36 L596.08 651.59 L595.59 651.79 L595.04 651.98 L594.43 652.16 L593.78 652.32 L593.08 652.47 L592.35 652.61 L591.61 652.74 L590.85 652.88 L590.09 653.01 L589.34 653.15 L588.62 653.29 L587.92 653.44 L587.26 653.60 L586.66 653.77 L586.10 653.96 L585.61 654.17 L585.19 654.39 L584.85 654.64 L584.58 654.90 L584.38 655.19 L581.83 660.17 L582.02 659.89 L582.29 659.62 L582.64 659.38 L583.06 659.15 L583.55 658.95 L584.10 658.76 L584.71 658.58 L585.37 658.42 L586.06 658.27 L586.79 658.13 L587.54 658.00 L588.30 657.86 L589.05 657.73 L589.80 657.59 L590.53 657.45 L591.22 657.30 L591.88 657.14 L592.49 656.97 L593.04 656.78 L593.53 656.57 L593.95 656.35 L594.30 656.10 L594.57 655.84 L594.76 655.55Z" fill="url(#gg)" stroke="#1a1a1a" stroke-width="0.8" stroke-linejoin="round"/><path d="M590.02 664.81 L589.83 665.09 L589.55 665.36 L589.21 665.60 L588.79 665.83 L588.30 666.03 L587.75 666.22 L587.14 666.40 L586.48 666.56 L585.78 666.71 L585.06 666.85 L584.31 666.98 L583.55 667.12 L582.72 667.41 L581.89 667.70 L581.08 668.00 L580.31 668.30 L579.57 668.62 L578.88 668.95 L578.25 669.29 L577.68 669.65 L577.18 670.03 L576.75 670.43 L576.40 670.86 L576.13 671.30 L575.49 672.54 L575.60 672.41 L575.80 672.30 L576.06 672.22 L576.40 672.15 L576.81 672.10 L577.29 672.06 L577.81 672.05 L578.39 672.04 L579.01 672.05 L579.65 672.06 L580.32 672.08 L581.00 672.10 L581.76 671.97 L582.50 671.83 L583.23 671.69 L583.93 671.54 L584.58 671.38 L585.19 671.21 L585.74 671.02 L586.23 670.81 L586.65 670.59 L587.00 670.34 L587.27 670.08 L587.46 669.79Z" fill="url(#gg)" stroke="#1a1a1a" stroke-width="0.8" stroke-linejoin="round"/>
<path d="M560.5 639.4 C567.0 637.0 577.0 637.8 583.0 640.1999999999999 C585.5 641.4 584.5 643.4 581.0 643.8" stroke="#333" stroke-width="0.8" fill="none"/><path d="M586.3 644.3 C589.0 634.8 595.0 626.3 600.3 625.1999999999999 C601.5 625.1999999999999 601.5 627.3 600.2 629.0" stroke="#333" stroke-width="0.8" fill="none"/>
<path d="M545 668.8 C540 669.8 530 669.6 524 666.8 C522.5 665.8 523.5 664.6 526.3 664.4" stroke="#333" stroke-width="0.8" fill="none"/>
<path d="M539.75 718.20 L540.06 718.16 L540.38 718.05 L540.69 717.86 L541.01 717.60 L541.32 717.28 L541.64 716.90 L541.95 716.46 L542.27 715.98 L542.58 715.45 L542.90 714.90 L543.21 714.33 L543.53 713.75 L543.84 713.17 L544.15 712.60 L544.47 712.05 L544.78 711.52 L545.10 711.04 L545.41 710.60 L545.73 710.22 L546.04 709.90 L546.36 709.64 L546.67 709.45 L546.99 709.34 L547.30 709.30 L553.10 709.30 L552.79 709.34 L552.47 709.45 L552.16 709.64 L551.84 709.90 L551.53 710.22 L551.21 710.60 L550.90 711.04 L550.58 711.52 L550.27 712.05 L549.95 712.60 L549.64 713.17 L549.33 713.75 L549.01 714.33 L548.70 714.90 L548.38 715.45 L548.07 715.98 L547.75 716.46 L547.44 716.90 L547.12 717.28 L546.81 717.60 L546.49 717.86 L546.18 718.05 L545.86 718.16 L545.55 718.20Z" fill="#0b2e16" stroke="#0b2e16" stroke-width="1.2" stroke-linejoin="round"/><path d="M554.85 718.20 L555.16 718.16 L555.48 718.05 L555.79 717.86 L556.11 717.60 L556.42 717.28 L556.74 716.90 L557.05 716.46 L557.37 715.98 L557.68 715.45 L558.00 714.90 L558.31 714.33 L558.62 713.75 L558.94 713.17 L559.25 712.60 L559.57 712.05 L559.88 711.52 L560.20 711.04 L560.51 710.60 L560.83 710.22 L561.14 709.90 L561.46 709.64 L561.77 709.45 L562.09 709.34 L562.40 709.30 L568.20 709.30 L567.89 709.34 L567.57 709.45 L567.26 709.64 L566.94 709.90 L566.63 710.22 L566.31 710.60 L566.00 711.04 L565.68 711.52 L565.37 712.05 L565.05 712.60 L564.74 713.17 L564.42 713.75 L564.11 714.33 L563.80 714.90 L563.48 715.45 L563.17 715.98 L562.85 716.46 L562.54 716.90 L562.22 717.28 L561.91 717.60 L561.59 717.86 L561.28 718.05 L560.96 718.16 L560.65 718.20Z" fill="#0b2e16" stroke="#0b2e16" stroke-width="1.2" stroke-linejoin="round"/><path d="M569.95 718.20 L570.26 718.16 L570.58 718.05 L570.89 717.86 L571.21 717.60 L571.52 717.28 L571.84 716.90 L572.15 716.46 L572.47 715.98 L572.78 715.45 L573.10 714.90 L573.41 714.33 L573.73 713.75 L574.22 713.17 L574.72 712.60 L575.21 712.05 L575.71 711.52 L576.20 711.04 L576.70 710.60 L577.20 710.22 L577.69 709.90 L578.19 709.64 L578.68 709.45 L579.18 709.34 L579.67 709.30 L581.12 709.30 L580.99 709.34 L580.86 709.45 L580.73 709.64 L580.59 709.90 L580.46 710.22 L580.33 710.60 L580.19 711.04 L580.06 711.52 L579.93 712.05 L579.79 712.60 L579.66 713.17 L579.52 713.75 L579.21 714.33 L578.90 714.90 L578.58 715.45 L578.27 715.98 L577.95 716.46 L577.64 716.90 L577.32 717.28 L577.01 717.60 L576.69 717.86 L576.38 718.05 L576.06 718.16 L575.75 718.20Z" fill="#0b2e16" stroke="#0b2e16" stroke-width="1.2" stroke-linejoin="round"/><path d="M534.38 709.30 L534.51 709.34 L534.64 709.45 L534.78 709.64 L534.91 709.90 L535.04 710.22 L535.18 710.60 L535.31 711.04 L535.44 711.52 L535.57 712.05 L535.71 712.60 L535.84 713.17 L535.98 713.75 L536.29 714.33 L536.60 714.90 L536.92 715.45 L537.23 715.98 L537.55 716.46 L537.86 716.90 L538.18 717.28 L538.49 717.60 L538.81 717.86 L539.12 718.05 L539.44 718.16 L539.75 718.20 L545.55 718.20 L545.24 718.16 L544.92 718.05 L544.61 717.86 L544.29 717.60 L543.98 717.28 L543.66 716.90 L543.35 716.46 L543.03 715.98 L542.72 715.45 L542.40 714.90 L542.09 714.33 L541.77 713.75 L541.28 713.17 L540.78 712.60 L540.29 712.05 L539.79 711.52 L539.30 711.04 L538.80 710.60 L538.30 710.22 L537.81 709.90 L537.31 709.64 L536.82 709.45 L536.32 709.34 L535.83 709.30Z" fill="url(#gn)" stroke="#0c3a16" stroke-width="0.8" stroke-linejoin="round"/><path d="M547.30 709.30 L547.61 709.34 L547.93 709.45 L548.24 709.64 L548.56 709.90 L548.87 710.22 L549.19 710.60 L549.50 711.04 L549.82 711.52 L550.13 712.05 L550.45 712.60 L550.76 713.17 L551.08 713.75 L551.39 714.33 L551.70 714.90 L552.02 715.45 L552.33 715.98 L552.65 716.46 L552.96 716.90 L553.28 717.28 L553.59 717.60 L553.91 717.86 L554.22 718.05 L554.54 718.16 L554.85 718.20 L560.65 718.20 L560.34 718.16 L560.02 718.05 L559.71 717.86 L559.39 717.60 L559.08 717.28 L558.76 716.90 L558.45 716.46 L558.13 715.98 L557.82 715.45 L557.50 714.90 L557.19 714.33 L556.88 713.75 L556.56 713.17 L556.25 712.60 L555.93 712.05 L555.62 711.52 L555.30 711.04 L554.99 710.60 L554.67 710.22 L554.36 709.90 L554.04 709.64 L553.73 709.45 L553.41 709.34 L553.10 709.30Z" fill="url(#gn)" stroke="#0c3a16" stroke-width="0.8" stroke-linejoin="round"/><path d="M562.40 709.30 L562.71 709.34 L563.03 709.45 L563.34 709.64 L563.66 709.90 L563.97 710.22 L564.29 710.60 L564.60 711.04 L564.92 711.52 L565.23 712.05 L565.55 712.60 L565.86 713.17 L566.18 713.75 L566.49 714.33 L566.80 714.90 L567.12 715.45 L567.43 715.98 L567.75 716.46 L568.06 716.90 L568.38 717.28 L568.69 717.60 L569.01 717.86 L569.32 718.05 L569.64 718.16 L569.95 718.20 L575.75 718.20 L575.44 718.16 L575.12 718.05 L574.81 717.86 L574.49 717.60 L574.18 717.28 L573.86 716.90 L573.55 716.46 L573.23 715.98 L572.92 715.45 L572.60 714.90 L572.29 714.33 L571.98 713.75 L571.66 713.17 L571.35 712.60 L571.03 712.05 L570.72 711.52 L570.40 711.04 L570.09 710.60 L569.77 710.22 L569.46 709.90 L569.14 709.64 L568.83 709.45 L568.51 709.34 L568.20 709.30Z" fill="url(#gn)" stroke="#0c3a16" stroke-width="0.8" stroke-linejoin="round"/>
<path d="M528.47 730.00 L528.61 729.96 L528.74 729.85 L528.88 729.66 L529.01 729.40 L529.14 729.08 L529.27 728.70 L529.41 728.26 L529.54 727.77 L529.67 727.25 L529.81 726.70 L529.94 726.13 L530.08 725.55 L530.39 724.97 L530.70 724.40 L531.02 723.85 L531.33 723.32 L531.65 722.84 L531.96 722.40 L532.28 722.02 L532.59 721.70 L532.91 721.44 L533.22 721.25 L533.54 721.14 L533.85 721.10 L539.65 721.10 L539.34 721.14 L539.02 721.25 L538.71 721.44 L538.39 721.70 L538.08 722.02 L537.76 722.40 L537.45 722.84 L537.13 723.32 L536.82 723.85 L536.50 724.40 L536.19 724.97 L535.88 725.55 L535.38 726.13 L534.88 726.70 L534.39 727.25 L533.89 727.77 L533.40 728.26 L532.90 728.70 L532.40 729.08 L531.91 729.40 L531.41 729.66 L530.92 729.85 L530.42 729.96 L529.92 730.00Z" fill="#0b2e16" stroke="#0b2e16" stroke-width="1.2" stroke-linejoin="round"/><path d="M541.40 730.00 L541.71 729.96 L542.03 729.85 L542.34 729.66 L542.66 729.40 L542.97 729.08 L543.29 728.70 L543.60 728.26 L543.92 727.77 L544.23 727.25 L544.55 726.70 L544.86 726.13 L545.17 725.55 L545.49 724.97 L545.80 724.40 L546.12 723.85 L546.43 723.32 L546.75 722.84 L547.06 722.40 L547.38 722.02 L547.69 721.70 L548.01 721.44 L548.32 721.25 L548.64 721.14 L548.95 721.10 L554.75 721.10 L554.44 721.14 L554.12 721.25 L553.81 721.44 L553.49 721.70 L553.18 722.02 L552.86 722.40 L552.55 722.84 L552.23 723.32 L551.92 723.85 L551.60 724.40 L551.29 724.97 L550.97 725.55 L550.66 726.13 L550.35 726.70 L550.03 727.25 L549.72 727.77 L549.40 728.26 L549.09 728.70 L548.77 729.08 L548.46 729.40 L548.14 729.66 L547.83 729.85 L547.51 729.96 L547.20 730.00Z" fill="#0b2e16" stroke="#0b2e16" stroke-width="1.2" stroke-linejoin="round"/><path d="M556.50 730.00 L556.81 729.96 L557.13 729.85 L557.44 729.66 L557.76 729.40 L558.07 729.08 L558.39 728.70 L558.70 728.26 L559.02 727.77 L559.33 727.25 L559.65 726.70 L559.96 726.13 L560.27 725.55 L560.59 724.97 L560.90 724.40 L561.22 723.85 L561.53 723.32 L561.85 722.84 L562.16 722.40 L562.48 722.02 L562.79 721.70 L563.11 721.44 L563.42 721.25 L563.74 721.14 L564.05 721.10 L569.85 721.10 L569.54 721.14 L569.22 721.25 L568.91 721.44 L568.59 721.70 L568.28 722.02 L567.96 722.40 L567.65 722.84 L567.33 723.32 L567.02 723.85 L566.70 724.40 L566.39 724.97 L566.07 725.55 L565.76 726.13 L565.45 726.70 L565.13 727.25 L564.82 727.77 L564.50 728.26 L564.19 728.70 L563.87 729.08 L563.56 729.40 L563.24 729.66 L562.93 729.85 L562.61 729.96 L562.30 730.00Z" fill="#0b2e16" stroke="#0b2e16" stroke-width="1.2" stroke-linejoin="round"/><path d="M533.85 721.10 L534.16 721.14 L534.48 721.25 L534.79 721.44 L535.11 721.70 L535.42 722.02 L535.74 722.40 L536.05 722.84 L536.37 723.32 L536.68 723.85 L537.00 724.40 L537.31 724.97 L537.62 725.55 L537.94 726.13 L538.25 726.70 L538.57 727.25 L538.88 727.77 L539.20 728.26 L539.51 728.70 L539.83 729.08 L540.14 729.40 L540.46 729.66 L540.77 729.85 L541.09 729.96 L541.40 730.00 L547.20 730.00 L546.89 729.96 L546.57 729.85 L546.26 729.66 L545.94 729.40 L545.63 729.08 L545.31 728.70 L545.00 728.26 L544.68 727.77 L544.37 727.25 L544.05 726.70 L543.74 726.13 L543.42 725.55 L543.11 724.97 L542.80 724.40 L542.48 723.85 L542.17 723.32 L541.85 722.84 L541.54 722.40 L541.22 722.02 L540.91 721.70 L540.59 721.44 L540.28 721.25 L539.96 721.14 L539.65 721.10Z" fill="url(#gn)" stroke="#0c3a16" stroke-width="0.8" stroke-linejoin="round"/><path d="M548.95 721.10 L549.26 721.14 L549.58 721.25 L549.89 721.44 L550.21 721.70 L550.52 722.02 L550.84 722.40 L551.15 722.84 L551.47 723.32 L551.78 723.85 L552.10 724.40 L552.41 724.97 L552.73 725.55 L553.04 726.13 L553.35 726.70 L553.67 727.25 L553.98 727.77 L554.30 728.26 L554.61 728.70 L554.93 729.08 L555.24 729.40 L555.56 729.66 L555.87 729.85 L556.19 729.96 L556.50 730.00 L562.30 730.00 L561.99 729.96 L561.67 729.85 L561.36 729.66 L561.04 729.40 L560.73 729.08 L560.41 728.70 L560.10 728.26 L559.78 727.77 L559.47 727.25 L559.15 726.70 L558.84 726.13 L558.52 725.55 L558.21 724.97 L557.90 724.40 L557.58 723.85 L557.27 723.32 L556.95 722.84 L556.64 722.40 L556.32 722.02 L556.01 721.70 L555.69 721.44 L555.38 721.25 L555.06 721.14 L554.75 721.10Z" fill="url(#gn)" stroke="#0c3a16" stroke-width="0.8" stroke-linejoin="round"/><path d="M564.05 721.10 L564.36 721.14 L564.68 721.25 L564.99 721.44 L565.31 721.70 L565.62 722.02 L565.94 722.40 L566.25 722.84 L566.57 723.32 L566.88 723.85 L567.20 724.40 L567.51 724.97 L567.83 725.55 L568.32 726.13 L568.82 726.70 L569.31 727.25 L569.81 727.77 L570.30 728.26 L570.80 728.70 L571.30 729.08 L571.79 729.40 L572.29 729.66 L572.78 729.85 L573.28 729.96 L573.77 730.00 L575.23 730.00 L575.09 729.96 L574.96 729.85 L574.82 729.66 L574.69 729.40 L574.56 729.08 L574.42 728.70 L574.29 728.26 L574.16 727.77 L574.02 727.25 L573.89 726.70 L573.76 726.13 L573.62 725.55 L573.31 724.97 L573.00 724.40 L572.68 723.85 L572.37 723.32 L572.05 722.84 L571.74 722.40 L571.42 722.02 L571.11 721.70 L570.79 721.44 L570.48 721.25 L570.16 721.14 L569.85 721.10Z" fill="url(#gn)" stroke="#0c3a16" stroke-width="0.8" stroke-linejoin="round"/>
<path d="M603.32 694.18 L603.29 694.33 L603.33 694.50 L603.46 694.69 L603.65 694.91 L603.92 695.14 L604.25 695.39 L604.63 695.65 L605.06 695.93 L605.53 696.22 L606.04 696.51 L606.56 696.81 L607.09 697.12 L607.55 697.58 L607.99 698.03 L608.41 698.49 L608.80 698.93 L609.16 699.36 L609.46 699.78 L609.71 700.19 L609.90 700.57 L610.01 700.94 L610.05 701.29 L610.02 701.62 L609.91 701.93 L607.36 706.91 L607.47 706.60 L607.50 706.28 L607.46 705.93 L607.34 705.56 L607.16 705.17 L606.91 704.77 L606.60 704.35 L606.25 703.91 L605.86 703.47 L605.44 703.02 L604.99 702.56 L604.54 702.10 L604.17 701.49 L603.80 700.87 L603.46 700.27 L603.15 699.67 L602.87 699.08 L602.65 698.50 L602.48 697.94 L602.38 697.40 L602.34 696.88 L602.38 696.37 L602.49 695.89 L602.68 695.42Z" fill="#0b2e16" stroke="#0b2e16" stroke-width="1.2" stroke-linejoin="round"/><path d="M596.98 706.55 L596.87 706.86 L596.83 707.18 L596.88 707.53 L596.99 707.90 L597.18 708.29 L597.43 708.69 L597.73 709.11 L598.08 709.55 L598.48 709.99 L598.90 710.44 L599.34 710.90 L599.80 711.36 L600.25 711.82 L600.69 712.27 L601.12 712.73 L601.51 713.17 L601.86 713.60 L602.17 714.02 L602.41 714.43 L602.60 714.81 L602.72 715.18 L602.76 715.53 L602.73 715.86 L602.61 716.17 L600.06 721.15 L600.17 720.84 L600.21 720.52 L600.16 720.17 L600.05 719.80 L599.86 719.41 L599.61 719.01 L599.31 718.59 L598.96 718.15 L598.56 717.71 L598.14 717.26 L597.70 716.80 L597.24 716.34 L596.79 715.88 L596.35 715.43 L595.92 714.97 L595.53 714.53 L595.18 714.10 L594.87 713.68 L594.63 713.27 L594.44 712.89 L594.32 712.52 L594.28 712.17 L594.31 711.84 L594.43 711.53Z" fill="#0b2e16" stroke="#0b2e16" stroke-width="1.2" stroke-linejoin="round"/><path d="M589.68 720.79 L589.57 721.10 L589.54 721.42 L589.58 721.77 L589.70 722.14 L589.88 722.53 L590.13 722.93 L590.44 723.35 L590.79 723.79 L591.18 724.23 L591.60 724.68 L592.05 725.14 L592.50 725.60 L592.95 726.06 L593.40 726.51 L593.82 726.97 L594.21 727.41 L594.57 727.84 L594.87 728.26 L595.12 728.67 L595.30 729.05 L595.42 729.42 L595.46 729.77 L595.43 730.10 L595.32 730.41 L592.76 735.39 L592.88 735.08 L592.91 734.76 L592.87 734.41 L592.75 734.04 L592.56 733.65 L592.32 733.25 L592.01 732.83 L591.66 732.39 L591.27 731.95 L590.84 731.50 L590.40 731.04 L589.95 730.58 L589.49 730.12 L589.05 729.67 L588.63 729.21 L588.24 728.77 L587.88 728.34 L587.58 727.92 L587.33 727.51 L587.14 727.13 L587.03 726.76 L586.99 726.41 L587.02 726.08 L587.13 725.77Z" fill="#0b2e16" stroke="#0b2e16" stroke-width="1.2" stroke-linejoin="round"/><path d="M609.91 701.93 L609.72 702.21 L609.45 702.48 L609.10 702.72 L608.68 702.95 L608.19 703.15 L607.64 703.34 L607.03 703.52 L606.37 703.68 L605.68 703.83 L604.95 703.97 L604.20 704.10 L603.44 704.24 L602.69 704.37 L601.94 704.51 L601.21 704.65 L600.52 704.80 L599.86 704.96 L599.25 705.13 L598.70 705.32 L598.21 705.53 L597.79 705.75 L597.44 706.00 L597.17 706.26 L596.98 706.55 L594.43 711.53 L594.62 711.25 L594.89 710.98 L595.24 710.74 L595.66 710.51 L596.15 710.31 L596.70 710.12 L597.31 709.94 L597.96 709.78 L598.66 709.63 L599.39 709.49 L600.13 709.36 L600.89 709.22 L601.65 709.09 L602.40 708.95 L603.12 708.81 L603.82 708.66 L604.48 708.50 L605.08 708.33 L605.64 708.14 L606.13 707.93 L606.55 707.71 L606.89 707.46 L607.16 707.20 L607.36 706.91Z" fill="url(#gn)" stroke="#0c3a16" stroke-width="0.8" stroke-linejoin="round"/><path d="M602.61 716.17 L602.42 716.45 L602.15 716.72 L601.80 716.96 L601.38 717.19 L600.89 717.39 L600.34 717.58 L599.73 717.76 L599.08 717.92 L598.38 718.07 L597.65 718.21 L596.91 718.34 L596.15 718.48 L595.39 718.61 L594.64 718.75 L593.92 718.89 L593.22 719.04 L592.56 719.20 L591.96 719.37 L591.40 719.56 L590.91 719.77 L590.49 719.99 L590.15 720.24 L589.88 720.50 L589.68 720.79 L587.13 725.77 L587.32 725.49 L587.59 725.22 L587.94 724.98 L588.36 724.75 L588.85 724.55 L589.40 724.36 L590.01 724.18 L590.67 724.02 L591.36 723.87 L592.09 723.73 L592.84 723.60 L593.60 723.46 L594.35 723.33 L595.10 723.19 L595.83 723.05 L596.52 722.90 L597.18 722.74 L597.79 722.57 L598.34 722.38 L598.83 722.17 L599.25 721.95 L599.60 721.70 L599.87 721.44 L600.06 721.15Z" fill="url(#gn)" stroke="#0c3a16" stroke-width="0.8" stroke-linejoin="round"/><path d="M595.32 730.41 L595.13 730.69 L594.85 730.96 L594.51 731.20 L594.09 731.43 L593.60 731.63 L593.05 731.82 L592.44 732.00 L591.78 732.16 L591.08 732.31 L590.36 732.45 L589.61 732.58 L588.85 732.72 L588.02 733.01 L587.19 733.30 L586.38 733.60 L585.61 733.90 L584.87 734.22 L584.18 734.55 L583.55 734.89 L582.98 735.25 L582.48 735.63 L582.05 736.03 L581.70 736.46 L581.43 736.90 L580.79 738.14 L580.90 738.01 L581.10 737.90 L581.36 737.82 L581.70 737.75 L582.11 737.70 L582.59 737.66 L583.11 737.65 L583.69 737.64 L584.31 737.65 L584.95 737.66 L585.62 737.68 L586.30 737.70 L587.06 737.57 L587.80 737.43 L588.53 737.29 L589.23 737.14 L589.88 736.98 L590.49 736.81 L591.04 736.62 L591.53 736.41 L591.95 736.19 L592.30 735.94 L592.57 735.68 L592.76 735.39Z" fill="url(#gn)" stroke="#0c3a16" stroke-width="0.8" stroke-linejoin="round"/>
<path d="M563.0 705.0 C569.5 702.6 579.5 703.4 585.5 705.8 C588.0 707.0 587.0 709.0 583.5 709.4" stroke="#333" stroke-width="0.8" fill="none"/><path d="M588.8 709.9 C591.5 700.4 597.5 691.9 602.8 690.8 C604.0 690.8 604.0 692.9 602.7 694.6" stroke="#333" stroke-width="0.8" fill="none"/>
<path d="M545 734.4 C540 735.4 530 735.2 524 732.4 C522.5 731.4 523.5 730.2 526.3 730" stroke="#333" stroke-width="0.8" fill="none"/>
</svg></body></html>
